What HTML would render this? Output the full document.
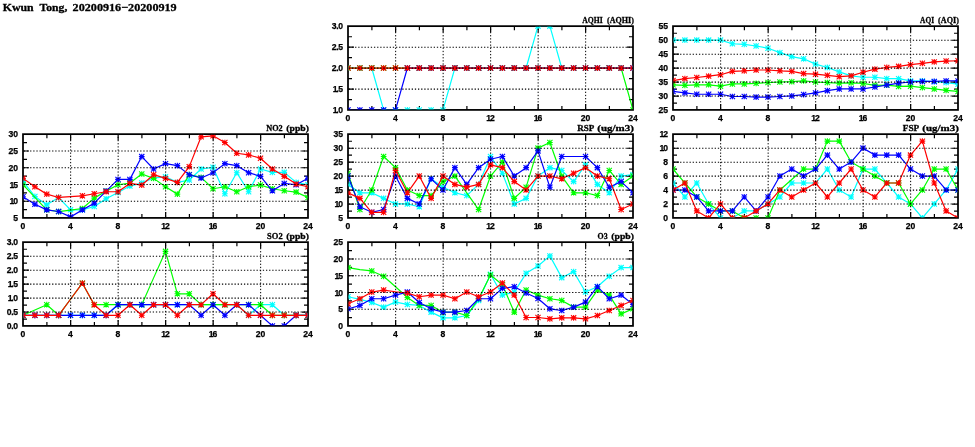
<!DOCTYPE html>
<html><head><meta charset="utf-8"><title>Kwun Tong, 20200916-20200919</title>
<style>html,body{margin:0;padding:0;background:#fff}svg{display:block;will-change:transform}text{font-family:"Liberation Sans",sans-serif;font-weight:bold;fill:#000;stroke:#000;stroke-width:.25px}.t{font-family:"Liberation Serif",serif;font-weight:bold;stroke-width:.3px}</style></head><body>
<svg width="975" height="447" viewBox="0 0 975 447">
<rect width="975" height="447" fill="#fff"/>
<text class="t" y="10.7" font-size="11.2"><tspan x="2.7" textLength="30.9" lengthAdjust="spacingAndGlyphs">Kwun</tspan> <tspan x="39.5" textLength="27.8" lengthAdjust="spacingAndGlyphs">Tong,</tspan> <tspan x="72.6" textLength="104.1" lengthAdjust="spacingAndGlyphs">20200916−20200919</tspan></text>
<g>
<clipPath id="c0"><rect x="348.6" y="26.75" width="283.8" height="82.55"/></clipPath>
<path d="M371.9 26.15v4M371.9 109.9v-4M395.65 26.15v6M395.65 109.9v-6M419.4 26.15v4M419.4 109.9v-4M443.15 26.15v6M443.15 109.9v-6M466.9 26.15v4M466.9 109.9v-4M490.65 26.15v6M490.65 109.9v-6M514.4 26.15v4M514.4 109.9v-4M538.15 26.15v6M538.15 109.9v-6M561.9 26.15v4M561.9 109.9v-4M585.65 26.15v6M585.65 109.9v-6M609.4 26.15v4M609.4 109.9v-4M348 99.55h4M633 99.55h-4M348 89.08h6M633 89.08h-6M348 78.61h4M633 78.61h-4M348 68.15h6M633 68.15h-6M348 57.68h4M633 57.68h-4M348 47.21h6M633 47.21h-6M348 36.74h4M633 36.74h-4" stroke="#000" stroke-width="1.2" fill="none"/>
<rect x="348" y="26.15" width="285" height="83.75" fill="none" stroke="#000" stroke-width="1.75"/>
<text x="348" y="120.8" font-size="8.6" text-anchor="middle">0</text>
<text x="395.5" y="120.8" font-size="8.6" text-anchor="middle">4</text>
<text x="443" y="120.8" font-size="8.6" text-anchor="middle">8</text>
<text x="490.5" y="120.8" font-size="8.6" text-anchor="middle">1<tspan dx="-1.1">2</tspan></text>
<text x="538" y="120.8" font-size="8.6" text-anchor="middle">1<tspan dx="-1.1">6</tspan></text>
<text x="585.5" y="120.8" font-size="8.6" text-anchor="middle">20</text>
<text x="633" y="120.8" font-size="8.6" text-anchor="middle">24</text>
<text x="343" y="113" font-size="8.6" text-anchor="end">1<tspan dx="-1.35">.</tspan><tspan dx="-0.45">0</tspan></text>
<text x="343" y="92.06" font-size="8.6" text-anchor="end">1<tspan dx="-1.35">.</tspan><tspan dx="-0.45">5</tspan></text>
<text x="343" y="71.12" font-size="8.6" text-anchor="end">2<tspan dx="-0.25">.</tspan><tspan dx="-0.45">0</tspan></text>
<text x="343" y="50.19" font-size="8.6" text-anchor="end">2<tspan dx="-0.25">.</tspan><tspan dx="-0.45">5</tspan></text>
<text x="343" y="29.25" font-size="8.6" text-anchor="end">3<tspan dx="-0.25">.</tspan><tspan dx="-0.45">0</tspan></text>
<text class="t" y="22.85" font-size="8.8"><tspan x="582.2" textLength="20.5" lengthAdjust="spacingAndGlyphs">AQHI</tspan> <tspan x="607" textLength="26.9" lengthAdjust="spacingAndGlyphs">(AQHI)</tspan></text>
<g clip-path="url(#c0)" fill="none" stroke-linejoin="round">
<polyline points="348,68.03 359.88,68.03 371.75,68.03 383.62,109.9 395.5,109.9 407.38,109.9 419.25,109.9 431.12,109.9 443,109.9 454.88,68.03 466.75,68.03 478.62,68.03 490.5,68.03 502.38,68.03 514.25,68.03 526.12,68.03 538,26.15 549.88,26.15 561.75,68.03 573.62,68.03 585.5,68.03 597.38,68.03 609.25,68.03 621.12,68.03 633,68.03" stroke="#00ffff" stroke-width="1.2"/>
<path d="M345.4 65.43L350.6 70.62M345.4 70.62L350.6 65.43M348 65.18L348 70.88M345.15 68.03L350.85 68.03M357.27 65.43L362.48 70.62M357.27 70.62L362.48 65.43M359.88 65.18L359.88 70.88M357.02 68.03L362.73 68.03M369.15 65.43L374.35 70.62M369.15 70.62L374.35 65.43M371.75 65.18L371.75 70.88M368.9 68.03L374.6 68.03M381.02 107.3L386.23 112.5M381.02 112.5L386.23 107.3M383.62 107.05L383.62 112.75M380.77 109.9L386.48 109.9M392.9 107.3L398.1 112.5M392.9 112.5L398.1 107.3M395.5 107.05L395.5 112.75M392.65 109.9L398.35 109.9M404.77 107.3L409.98 112.5M404.77 112.5L409.98 107.3M407.38 107.05L407.38 112.75M404.52 109.9L410.23 109.9M416.65 107.3L421.85 112.5M416.65 112.5L421.85 107.3M419.25 107.05L419.25 112.75M416.4 109.9L422.1 109.9M428.52 107.3L433.73 112.5M428.52 112.5L433.73 107.3M431.12 107.05L431.12 112.75M428.27 109.9L433.98 109.9M440.4 107.3L445.6 112.5M440.4 112.5L445.6 107.3M443 107.05L443 112.75M440.15 109.9L445.85 109.9M452.27 65.43L457.48 70.62M452.27 70.62L457.48 65.43M454.88 65.18L454.88 70.88M452.02 68.03L457.73 68.03M464.15 65.43L469.35 70.62M464.15 70.62L469.35 65.43M466.75 65.18L466.75 70.88M463.9 68.03L469.6 68.03M476.02 65.43L481.23 70.62M476.02 70.62L481.23 65.43M478.62 65.18L478.62 70.88M475.77 68.03L481.48 68.03M487.9 65.43L493.1 70.62M487.9 70.62L493.1 65.43M490.5 65.18L490.5 70.88M487.65 68.03L493.35 68.03M499.77 65.43L504.98 70.62M499.77 70.62L504.98 65.43M502.38 65.18L502.38 70.88M499.52 68.03L505.23 68.03M511.65 65.43L516.85 70.62M511.65 70.62L516.85 65.43M514.25 65.18L514.25 70.88M511.4 68.03L517.1 68.03M523.52 65.43L528.73 70.62M523.52 70.62L528.73 65.43M526.12 65.18L526.12 70.88M523.27 68.03L528.98 68.03M535.4 23.55L540.6 28.75M535.4 28.75L540.6 23.55M538 23.3L538 29M535.15 26.15L540.85 26.15M547.27 23.55L552.48 28.75M547.27 28.75L552.48 23.55M549.88 23.3L549.88 29M547.02 26.15L552.73 26.15M559.15 65.43L564.35 70.62M559.15 70.62L564.35 65.43M561.75 65.18L561.75 70.88M558.9 68.03L564.6 68.03M571.02 65.43L576.23 70.62M571.02 70.62L576.23 65.43M573.62 65.18L573.62 70.88M570.77 68.03L576.48 68.03M582.9 65.43L588.1 70.62M582.9 70.62L588.1 65.43M585.5 65.18L585.5 70.88M582.65 68.03L588.35 68.03M594.77 65.43L599.98 70.62M594.77 70.62L599.98 65.43M597.38 65.18L597.38 70.88M594.52 68.03L600.23 68.03M606.65 65.43L611.85 70.62M606.65 70.62L611.85 65.43M609.25 65.18L609.25 70.88M606.4 68.03L612.1 68.03M618.52 65.43L623.73 70.62M618.52 70.62L623.73 65.43M621.12 65.18L621.12 70.88M618.27 68.03L623.98 68.03M630.4 65.43L635.6 70.62M630.4 70.62L635.6 65.43M633 65.18L633 70.88M630.15 68.03L635.85 68.03" stroke="#00ffff" stroke-width="1.1"/>
<polyline points="348,68.03 359.88,68.03 371.75,68.03 383.62,68.03 395.5,68.03 407.38,68.03 419.25,68.03 431.12,68.03 443,68.03 454.88,68.03 466.75,68.03 478.62,68.03 490.5,68.03 502.38,68.03 514.25,68.03 526.12,68.03 538,68.03 549.88,68.03 561.75,68.03 573.62,68.03 585.5,68.03 597.38,68.03 609.25,68.03 621.12,68.03 633,109.9" stroke="#00ff00" stroke-width="1.2"/>
<path d="M345.4 65.43L350.6 70.62M345.4 70.62L350.6 65.43M348 65.18L348 70.88M345.15 68.03L350.85 68.03M357.27 65.43L362.48 70.62M357.27 70.62L362.48 65.43M359.88 65.18L359.88 70.88M357.02 68.03L362.73 68.03M369.15 65.43L374.35 70.62M369.15 70.62L374.35 65.43M371.75 65.18L371.75 70.88M368.9 68.03L374.6 68.03M381.02 65.43L386.23 70.62M381.02 70.62L386.23 65.43M383.62 65.18L383.62 70.88M380.77 68.03L386.48 68.03M392.9 65.43L398.1 70.62M392.9 70.62L398.1 65.43M395.5 65.18L395.5 70.88M392.65 68.03L398.35 68.03M404.77 65.43L409.98 70.62M404.77 70.62L409.98 65.43M407.38 65.18L407.38 70.88M404.52 68.03L410.23 68.03M416.65 65.43L421.85 70.62M416.65 70.62L421.85 65.43M419.25 65.18L419.25 70.88M416.4 68.03L422.1 68.03M428.52 65.43L433.73 70.62M428.52 70.62L433.73 65.43M431.12 65.18L431.12 70.88M428.27 68.03L433.98 68.03M440.4 65.43L445.6 70.62M440.4 70.62L445.6 65.43M443 65.18L443 70.88M440.15 68.03L445.85 68.03M452.27 65.43L457.48 70.62M452.27 70.62L457.48 65.43M454.88 65.18L454.88 70.88M452.02 68.03L457.73 68.03M464.15 65.43L469.35 70.62M464.15 70.62L469.35 65.43M466.75 65.18L466.75 70.88M463.9 68.03L469.6 68.03M476.02 65.43L481.23 70.62M476.02 70.62L481.23 65.43M478.62 65.18L478.62 70.88M475.77 68.03L481.48 68.03M487.9 65.43L493.1 70.62M487.9 70.62L493.1 65.43M490.5 65.18L490.5 70.88M487.65 68.03L493.35 68.03M499.77 65.43L504.98 70.62M499.77 70.62L504.98 65.43M502.38 65.18L502.38 70.88M499.52 68.03L505.23 68.03M511.65 65.43L516.85 70.62M511.65 70.62L516.85 65.43M514.25 65.18L514.25 70.88M511.4 68.03L517.1 68.03M523.52 65.43L528.73 70.62M523.52 70.62L528.73 65.43M526.12 65.18L526.12 70.88M523.27 68.03L528.98 68.03M535.4 65.43L540.6 70.62M535.4 70.62L540.6 65.43M538 65.18L538 70.88M535.15 68.03L540.85 68.03M547.27 65.43L552.48 70.62M547.27 70.62L552.48 65.43M549.88 65.18L549.88 70.88M547.02 68.03L552.73 68.03M559.15 65.43L564.35 70.62M559.15 70.62L564.35 65.43M561.75 65.18L561.75 70.88M558.9 68.03L564.6 68.03M571.02 65.43L576.23 70.62M571.02 70.62L576.23 65.43M573.62 65.18L573.62 70.88M570.77 68.03L576.48 68.03M582.9 65.43L588.1 70.62M582.9 70.62L588.1 65.43M585.5 65.18L585.5 70.88M582.65 68.03L588.35 68.03M594.77 65.43L599.98 70.62M594.77 70.62L599.98 65.43M597.38 65.18L597.38 70.88M594.52 68.03L600.23 68.03M606.65 65.43L611.85 70.62M606.65 70.62L611.85 65.43M609.25 65.18L609.25 70.88M606.4 68.03L612.1 68.03M618.52 65.43L623.73 70.62M618.52 70.62L623.73 65.43M621.12 65.18L621.12 70.88M618.27 68.03L623.98 68.03M630.4 107.3L635.6 112.5M630.4 112.5L635.6 107.3M633 107.05L633 112.75M630.15 109.9L635.85 109.9" stroke="#00ff00" stroke-width="1.1"/>
<polyline points="348,109.9 359.88,109.9 371.75,109.9 383.62,109.9 395.5,109.9 407.38,68.03 419.25,68.03 431.12,68.03 443,68.03 454.88,68.03 466.75,68.03 478.62,68.03 490.5,68.03 502.38,68.03 514.25,68.03 526.12,68.03 538,68.03 549.88,68.03 561.75,68.03 573.62,68.03 585.5,68.03 597.38,68.03 609.25,68.03 621.12,68.03 633,68.03" stroke="#0000ff" stroke-width="1.2"/>
<path d="M345.4 107.3L350.6 112.5M345.4 112.5L350.6 107.3M348 107.05L348 112.75M345.15 109.9L350.85 109.9M357.27 107.3L362.48 112.5M357.27 112.5L362.48 107.3M359.88 107.05L359.88 112.75M357.02 109.9L362.73 109.9M369.15 107.3L374.35 112.5M369.15 112.5L374.35 107.3M371.75 107.05L371.75 112.75M368.9 109.9L374.6 109.9M381.02 107.3L386.23 112.5M381.02 112.5L386.23 107.3M383.62 107.05L383.62 112.75M380.77 109.9L386.48 109.9M392.9 107.3L398.1 112.5M392.9 112.5L398.1 107.3M395.5 107.05L395.5 112.75M392.65 109.9L398.35 109.9M404.77 65.43L409.98 70.62M404.77 70.62L409.98 65.43M407.38 65.18L407.38 70.88M404.52 68.03L410.23 68.03M416.65 65.43L421.85 70.62M416.65 70.62L421.85 65.43M419.25 65.18L419.25 70.88M416.4 68.03L422.1 68.03M428.52 65.43L433.73 70.62M428.52 70.62L433.73 65.43M431.12 65.18L431.12 70.88M428.27 68.03L433.98 68.03M440.4 65.43L445.6 70.62M440.4 70.62L445.6 65.43M443 65.18L443 70.88M440.15 68.03L445.85 68.03M452.27 65.43L457.48 70.62M452.27 70.62L457.48 65.43M454.88 65.18L454.88 70.88M452.02 68.03L457.73 68.03M464.15 65.43L469.35 70.62M464.15 70.62L469.35 65.43M466.75 65.18L466.75 70.88M463.9 68.03L469.6 68.03M476.02 65.43L481.23 70.62M476.02 70.62L481.23 65.43M478.62 65.18L478.62 70.88M475.77 68.03L481.48 68.03M487.9 65.43L493.1 70.62M487.9 70.62L493.1 65.43M490.5 65.18L490.5 70.88M487.65 68.03L493.35 68.03M499.77 65.43L504.98 70.62M499.77 70.62L504.98 65.43M502.38 65.18L502.38 70.88M499.52 68.03L505.23 68.03M511.65 65.43L516.85 70.62M511.65 70.62L516.85 65.43M514.25 65.18L514.25 70.88M511.4 68.03L517.1 68.03M523.52 65.43L528.73 70.62M523.52 70.62L528.73 65.43M526.12 65.18L526.12 70.88M523.27 68.03L528.98 68.03M535.4 65.43L540.6 70.62M535.4 70.62L540.6 65.43M538 65.18L538 70.88M535.15 68.03L540.85 68.03M547.27 65.43L552.48 70.62M547.27 70.62L552.48 65.43M549.88 65.18L549.88 70.88M547.02 68.03L552.73 68.03M559.15 65.43L564.35 70.62M559.15 70.62L564.35 65.43M561.75 65.18L561.75 70.88M558.9 68.03L564.6 68.03M571.02 65.43L576.23 70.62M571.02 70.62L576.23 65.43M573.62 65.18L573.62 70.88M570.77 68.03L576.48 68.03M582.9 65.43L588.1 70.62M582.9 70.62L588.1 65.43M585.5 65.18L585.5 70.88M582.65 68.03L588.35 68.03M594.77 65.43L599.98 70.62M594.77 70.62L599.98 65.43M597.38 65.18L597.38 70.88M594.52 68.03L600.23 68.03M606.65 65.43L611.85 70.62M606.65 70.62L611.85 65.43M609.25 65.18L609.25 70.88M606.4 68.03L612.1 68.03M618.52 65.43L623.73 70.62M618.52 70.62L623.73 65.43M621.12 65.18L621.12 70.88M618.27 68.03L623.98 68.03M630.4 65.43L635.6 70.62M630.4 70.62L635.6 65.43M633 65.18L633 70.88M630.15 68.03L635.85 68.03" stroke="#0000ff" stroke-width="1.1"/>
<polyline points="348,68.03 359.88,68.03 371.75,68.03 383.62,68.03 395.5,68.03 407.38,68.03 419.25,68.03 431.12,68.03 443,68.03 454.88,68.03 466.75,68.03 478.62,68.03 490.5,68.03 502.38,68.03 514.25,68.03 526.12,68.03 538,68.03 549.88,68.03 561.75,68.03 573.62,68.03 585.5,68.03 597.38,68.03 609.25,68.03 621.12,68.03 633,68.03" stroke="#ff0000" stroke-width="1.2"/>
<path d="M345.4 65.43L350.6 70.62M345.4 70.62L350.6 65.43M348 65.18L348 70.88M345.15 68.03L350.85 68.03M357.27 65.43L362.48 70.62M357.27 70.62L362.48 65.43M359.88 65.18L359.88 70.88M357.02 68.03L362.73 68.03M369.15 65.43L374.35 70.62M369.15 70.62L374.35 65.43M371.75 65.18L371.75 70.88M368.9 68.03L374.6 68.03M381.02 65.43L386.23 70.62M381.02 70.62L386.23 65.43M383.62 65.18L383.62 70.88M380.77 68.03L386.48 68.03M392.9 65.43L398.1 70.62M392.9 70.62L398.1 65.43M395.5 65.18L395.5 70.88M392.65 68.03L398.35 68.03M404.77 65.43L409.98 70.62M404.77 70.62L409.98 65.43M407.38 65.18L407.38 70.88M404.52 68.03L410.23 68.03M416.65 65.43L421.85 70.62M416.65 70.62L421.85 65.43M419.25 65.18L419.25 70.88M416.4 68.03L422.1 68.03M428.52 65.43L433.73 70.62M428.52 70.62L433.73 65.43M431.12 65.18L431.12 70.88M428.27 68.03L433.98 68.03M440.4 65.43L445.6 70.62M440.4 70.62L445.6 65.43M443 65.18L443 70.88M440.15 68.03L445.85 68.03M452.27 65.43L457.48 70.62M452.27 70.62L457.48 65.43M454.88 65.18L454.88 70.88M452.02 68.03L457.73 68.03M464.15 65.43L469.35 70.62M464.15 70.62L469.35 65.43M466.75 65.18L466.75 70.88M463.9 68.03L469.6 68.03M476.02 65.43L481.23 70.62M476.02 70.62L481.23 65.43M478.62 65.18L478.62 70.88M475.77 68.03L481.48 68.03M487.9 65.43L493.1 70.62M487.9 70.62L493.1 65.43M490.5 65.18L490.5 70.88M487.65 68.03L493.35 68.03M499.77 65.43L504.98 70.62M499.77 70.62L504.98 65.43M502.38 65.18L502.38 70.88M499.52 68.03L505.23 68.03M511.65 65.43L516.85 70.62M511.65 70.62L516.85 65.43M514.25 65.18L514.25 70.88M511.4 68.03L517.1 68.03M523.52 65.43L528.73 70.62M523.52 70.62L528.73 65.43M526.12 65.18L526.12 70.88M523.27 68.03L528.98 68.03M535.4 65.43L540.6 70.62M535.4 70.62L540.6 65.43M538 65.18L538 70.88M535.15 68.03L540.85 68.03M547.27 65.43L552.48 70.62M547.27 70.62L552.48 65.43M549.88 65.18L549.88 70.88M547.02 68.03L552.73 68.03M559.15 65.43L564.35 70.62M559.15 70.62L564.35 65.43M561.75 65.18L561.75 70.88M558.9 68.03L564.6 68.03M571.02 65.43L576.23 70.62M571.02 70.62L576.23 65.43M573.62 65.18L573.62 70.88M570.77 68.03L576.48 68.03M582.9 65.43L588.1 70.62M582.9 70.62L588.1 65.43M585.5 65.18L585.5 70.88M582.65 68.03L588.35 68.03M594.77 65.43L599.98 70.62M594.77 70.62L599.98 65.43M597.38 65.18L597.38 70.88M594.52 68.03L600.23 68.03M606.65 65.43L611.85 70.62M606.65 70.62L611.85 65.43M609.25 65.18L609.25 70.88M606.4 68.03L612.1 68.03M618.52 65.43L623.73 70.62M618.52 70.62L623.73 65.43M621.12 65.18L621.12 70.88M618.27 68.03L623.98 68.03M630.4 65.43L635.6 70.62M630.4 70.62L635.6 65.43M633 65.18L633 70.88M630.15 68.03L635.85 68.03" stroke="#ff0000" stroke-width="1.1"/>
</g>
<path d="M348 89.08H633M348 68.15H633M348 47.21H633" stroke="#000" stroke-width="1.1" stroke-dasharray="1.3 1.845" stroke-dashoffset="2.35" fill="none"/><path d="M395.65 26.15V109.9M443.15 26.15V109.9M490.65 26.15V109.9M538.15 26.15V109.9M585.65 26.15V109.9" stroke="#000" stroke-width="1" stroke-dasharray="1.3 1.845" stroke-dashoffset="0.5" fill="none"/>
</g>
<g>
<clipPath id="c1"><rect x="673.6" y="26.75" width="283.8" height="82.55"/></clipPath>
<path d="M696.9 26.15v4M696.9 109.9v-4M720.65 26.15v6M720.65 109.9v-6M744.4 26.15v4M744.4 109.9v-4M768.15 26.15v6M768.15 109.9v-6M791.9 26.15v4M791.9 109.9v-4M815.65 26.15v6M815.65 109.9v-6M839.4 26.15v4M839.4 109.9v-4M863.15 26.15v6M863.15 109.9v-6M886.9 26.15v4M886.9 109.9v-4M910.65 26.15v6M910.65 109.9v-6M934.4 26.15v4M934.4 109.9v-4M673 103.04h4M958 103.04h-4M673 96.06h6M958 96.06h-6M673 89.08h4M958 89.08h-4M673 82.1h6M958 82.1h-6M673 75.12h4M958 75.12h-4M673 68.15h6M958 68.15h-6M673 61.17h4M958 61.17h-4M673 54.19h6M958 54.19h-6M673 47.21h4M958 47.21h-4M673 40.23h6M958 40.23h-6M673 33.25h4M958 33.25h-4" stroke="#000" stroke-width="1.2" fill="none"/>
<rect x="673" y="26.15" width="285" height="83.75" fill="none" stroke="#000" stroke-width="1.75"/>
<text x="673" y="120.8" font-size="8.6" text-anchor="middle">0</text>
<text x="720.5" y="120.8" font-size="8.6" text-anchor="middle">4</text>
<text x="768" y="120.8" font-size="8.6" text-anchor="middle">8</text>
<text x="815.5" y="120.8" font-size="8.6" text-anchor="middle">1<tspan dx="-1.1">2</tspan></text>
<text x="863" y="120.8" font-size="8.6" text-anchor="middle">1<tspan dx="-1.1">6</tspan></text>
<text x="910.5" y="120.8" font-size="8.6" text-anchor="middle">20</text>
<text x="958" y="120.8" font-size="8.6" text-anchor="middle">24</text>
<text x="668" y="113" font-size="8.6" text-anchor="end">25</text>
<text x="668" y="99.04" font-size="8.6" text-anchor="end">30</text>
<text x="668" y="85.08" font-size="8.6" text-anchor="end">35</text>
<text x="668" y="71.12" font-size="8.6" text-anchor="end">40</text>
<text x="668" y="57.17" font-size="8.6" text-anchor="end">45</text>
<text x="668" y="43.21" font-size="8.6" text-anchor="end">50</text>
<text x="668" y="29.25" font-size="8.6" text-anchor="end">55</text>
<text class="t" y="22.85" font-size="8.8"><tspan x="920.1" textLength="14" lengthAdjust="spacingAndGlyphs">AQI</tspan> <tspan x="938.1" textLength="20.8" lengthAdjust="spacingAndGlyphs">(AQI)</tspan></text>
<g clip-path="url(#c1)" fill="none" stroke-linejoin="round">
<polyline points="673,40.11 684.88,40.11 696.75,40.11 708.62,40.11 720.5,40.11 732.38,43.74 744.25,44.3 756.12,45.97 768,48.2 779.88,52.67 791.75,56.58 803.62,58.81 815.5,64.12 827.38,67.47 839.25,71.93 851.12,75.84 863,77.24 874.88,77.24 886.75,78.63 898.62,78.63 910.5,80.87 922.38,80.87 934.25,81.7 946.12,82.54 958,84.22" stroke="#00ffff" stroke-width="1.2"/>
<path d="M670.4 37.51L675.6 42.71M670.4 42.71L675.6 37.51M673 37.26L673 42.96M670.15 40.11L675.85 40.11M682.27 37.51L687.48 42.71M682.27 42.71L687.48 37.51M684.88 37.26L684.88 42.96M682.02 40.11L687.73 40.11M694.15 37.51L699.35 42.71M694.15 42.71L699.35 37.51M696.75 37.26L696.75 42.96M693.9 40.11L699.6 40.11M706.02 37.51L711.23 42.71M706.02 42.71L711.23 37.51M708.62 37.26L708.62 42.96M705.77 40.11L711.48 40.11M717.9 37.51L723.1 42.71M717.9 42.71L723.1 37.51M720.5 37.26L720.5 42.96M717.65 40.11L723.35 40.11M729.77 41.14L734.98 46.34M729.77 46.34L734.98 41.14M732.38 40.89L732.38 46.59M729.52 43.74L735.23 43.74M741.65 41.7L746.85 46.9M741.65 46.9L746.85 41.7M744.25 41.45L744.25 47.15M741.4 44.3L747.1 44.3M753.52 43.37L758.73 48.57M753.52 48.57L758.73 43.37M756.12 43.12L756.12 48.82M753.27 45.97L758.98 45.97M765.4 45.6L770.6 50.8M765.4 50.8L770.6 45.6M768 45.35L768 51.05M765.15 48.2L770.85 48.2M777.27 50.07L782.48 55.27M777.27 55.27L782.48 50.07M779.88 49.82L779.88 55.52M777.02 52.67L782.73 52.67M789.15 53.98L794.35 59.18M789.15 59.18L794.35 53.98M791.75 53.73L791.75 59.43M788.9 56.58L794.6 56.58M801.02 56.21L806.23 61.41M801.02 61.41L806.23 56.21M803.62 55.96L803.62 61.66M800.77 58.81L806.48 58.81M812.9 61.52L818.1 66.72M812.9 66.72L818.1 61.52M815.5 61.27L815.5 66.97M812.65 64.12L818.35 64.12M824.77 64.87L829.98 70.07M824.77 70.07L829.98 64.87M827.38 64.62L827.38 70.32M824.52 67.47L830.23 67.47M836.65 69.33L841.85 74.53M836.65 74.53L841.85 69.33M839.25 69.08L839.25 74.78M836.4 71.93L842.1 71.93M848.52 73.24L853.73 78.44M848.52 78.44L853.73 73.24M851.12 72.99L851.12 78.69M848.27 75.84L853.98 75.84M860.4 74.64L865.6 79.84M860.4 79.84L865.6 74.64M863 74.39L863 80.09M860.15 77.24L865.85 77.24M872.27 74.64L877.48 79.84M872.27 79.84L877.48 74.64M874.88 74.39L874.88 80.09M872.02 77.24L877.73 77.24M884.15 76.03L889.35 81.23M884.15 81.23L889.35 76.03M886.75 75.78L886.75 81.48M883.9 78.63L889.6 78.63M896.02 76.03L901.23 81.23M896.02 81.23L901.23 76.03M898.62 75.78L898.62 81.48M895.77 78.63L901.48 78.63M907.9 78.27L913.1 83.47M907.9 83.47L913.1 78.27M910.5 78.02L910.5 83.72M907.65 80.87L913.35 80.87M919.77 78.27L924.98 83.47M919.77 83.47L924.98 78.27M922.38 78.02L922.38 83.72M919.52 80.87L925.23 80.87M931.65 79.1L936.85 84.3M931.65 84.3L936.85 79.1M934.25 78.85L934.25 84.55M931.4 81.7L937.1 81.7M943.52 79.94L948.73 85.14M943.52 85.14L948.73 79.94M946.12 79.69L946.12 85.39M943.27 82.54L948.98 82.54M955.4 81.62L960.6 86.82M955.4 86.82L960.6 81.62M958 81.37L958 87.07M955.15 84.22L960.85 84.22" stroke="#00ffff" stroke-width="1.1"/>
<polyline points="673,84.78 684.88,85.33 696.75,84.78 708.62,84.78 720.5,86.17 732.38,83.94 744.25,83.94 756.12,83.38 768,82.54 779.88,81.98 791.75,81.7 803.62,80.87 815.5,81.98 827.38,82.54 839.25,83.1 851.12,82.82 863,83.38 874.88,85.33 886.75,85.05 898.62,86.45 910.5,86.17 922.38,87.57 934.25,88.96 946.12,90.36 958,91.47" stroke="#00ff00" stroke-width="1.2"/>
<path d="M670.4 82.18L675.6 87.38M670.4 87.38L675.6 82.18M673 81.93L673 87.62M670.15 84.78L675.85 84.78M682.27 82.73L687.48 87.93M682.27 87.93L687.48 82.73M684.88 82.48L684.88 88.18M682.02 85.33L687.73 85.33M694.15 82.18L699.35 87.38M694.15 87.38L699.35 82.18M696.75 81.93L696.75 87.62M693.9 84.78L699.6 84.78M706.02 82.18L711.23 87.38M706.02 87.38L711.23 82.18M708.62 81.93L708.62 87.62M705.77 84.78L711.48 84.78M717.9 83.57L723.1 88.77M717.9 88.77L723.1 83.57M720.5 83.32L720.5 89.02M717.65 86.17L723.35 86.17M729.77 81.34L734.98 86.54M729.77 86.54L734.98 81.34M732.38 81.09L732.38 86.79M729.52 83.94L735.23 83.94M741.65 81.34L746.85 86.54M741.65 86.54L746.85 81.34M744.25 81.09L744.25 86.79M741.4 83.94L747.1 83.94M753.52 80.78L758.73 85.98M753.52 85.98L758.73 80.78M756.12 80.53L756.12 86.23M753.27 83.38L758.98 83.38M765.4 79.94L770.6 85.14M765.4 85.14L770.6 79.94M768 79.69L768 85.39M765.15 82.54L770.85 82.54M777.27 79.38L782.48 84.58M777.27 84.58L782.48 79.38M779.88 79.13L779.88 84.83M777.02 81.98L782.73 81.98M789.15 79.1L794.35 84.3M789.15 84.3L794.35 79.1M791.75 78.85L791.75 84.55M788.9 81.7L794.6 81.7M801.02 78.27L806.23 83.47M801.02 83.47L806.23 78.27M803.62 78.02L803.62 83.72M800.77 80.87L806.48 80.87M812.9 79.38L818.1 84.58M812.9 84.58L818.1 79.38M815.5 79.13L815.5 84.83M812.65 81.98L818.35 81.98M824.77 79.94L829.98 85.14M824.77 85.14L829.98 79.94M827.38 79.69L827.38 85.39M824.52 82.54L830.23 82.54M836.65 80.5L841.85 85.7M836.65 85.7L841.85 80.5M839.25 80.25L839.25 85.95M836.4 83.1L842.1 83.1M848.52 80.22L853.73 85.42M848.52 85.42L853.73 80.22M851.12 79.97L851.12 85.67M848.27 82.82L853.98 82.82M860.4 80.78L865.6 85.98M860.4 85.98L865.6 80.78M863 80.53L863 86.23M860.15 83.38L865.85 83.38M872.27 82.73L877.48 87.93M872.27 87.93L877.48 82.73M874.88 82.48L874.88 88.18M872.02 85.33L877.73 85.33M884.15 82.45L889.35 87.65M884.15 87.65L889.35 82.45M886.75 82.2L886.75 87.9M883.9 85.05L889.6 85.05M896.02 83.85L901.23 89.05M896.02 89.05L901.23 83.85M898.62 83.6L898.62 89.3M895.77 86.45L901.48 86.45M907.9 83.57L913.1 88.77M907.9 88.77L913.1 83.57M910.5 83.32L910.5 89.02M907.65 86.17L913.35 86.17M919.77 84.97L924.98 90.17M919.77 90.17L924.98 84.97M922.38 84.72L922.38 90.42M919.52 87.57L925.23 87.57M931.65 86.36L936.85 91.56M931.65 91.56L936.85 86.36M934.25 86.11L934.25 91.81M931.4 88.96L937.1 88.96M943.52 87.76L948.73 92.96M943.52 92.96L948.73 87.76M946.12 87.51L946.12 93.21M943.27 90.36L948.98 90.36M955.4 88.88L960.6 94.07M955.4 94.07L960.6 88.88M958 88.62L958 94.32M955.15 91.47L960.85 91.47" stroke="#00ff00" stroke-width="1.1"/>
<polyline points="673,91.47 684.88,92.87 696.75,94.27 708.62,94.27 720.5,94.27 732.38,96.5 744.25,96.5 756.12,97.06 768,97.06 779.88,96.5 791.75,95.94 803.62,94.55 815.5,92.87 827.38,90.64 839.25,88.96 851.12,88.96 863,88.96 874.88,87.01 886.75,85.05 898.62,83.1 910.5,81.98 922.38,81.42 934.25,81.42 946.12,80.87 958,80.87" stroke="#0000ff" stroke-width="1.2"/>
<path d="M670.4 88.88L675.6 94.07M670.4 94.07L675.6 88.88M673 88.62L673 94.32M670.15 91.47L675.85 91.47M682.27 90.27L687.48 95.47M682.27 95.47L687.48 90.27M684.88 90.02L684.88 95.72M682.02 92.87L687.73 92.87M694.15 91.67L699.35 96.87M694.15 96.87L699.35 91.67M696.75 91.42L696.75 97.12M693.9 94.27L699.6 94.27M706.02 91.67L711.23 96.87M706.02 96.87L711.23 91.67M708.62 91.42L708.62 97.12M705.77 94.27L711.48 94.27M717.9 91.67L723.1 96.87M717.9 96.87L723.1 91.67M720.5 91.42L720.5 97.12M717.65 94.27L723.35 94.27M729.77 93.9L734.98 99.1M729.77 99.1L734.98 93.9M732.38 93.65L732.38 99.35M729.52 96.5L735.23 96.5M741.65 93.9L746.85 99.1M741.65 99.1L746.85 93.9M744.25 93.65L744.25 99.35M741.4 96.5L747.1 96.5M753.52 94.46L758.73 99.66M753.52 99.66L758.73 94.46M756.12 94.21L756.12 99.91M753.27 97.06L758.98 97.06M765.4 94.46L770.6 99.66M765.4 99.66L770.6 94.46M768 94.21L768 99.91M765.15 97.06L770.85 97.06M777.27 93.9L782.48 99.1M777.27 99.1L782.48 93.9M779.88 93.65L779.88 99.35M777.02 96.5L782.73 96.5M789.15 93.34L794.35 98.54M789.15 98.54L794.35 93.34M791.75 93.09L791.75 98.79M788.9 95.94L794.6 95.94M801.02 91.95L806.23 97.15M801.02 97.15L806.23 91.95M803.62 91.7L803.62 97.4M800.77 94.55L806.48 94.55M812.9 90.27L818.1 95.47M812.9 95.47L818.1 90.27M815.5 90.02L815.5 95.72M812.65 92.87L818.35 92.87M824.77 88.04L829.98 93.24M824.77 93.24L829.98 88.04M827.38 87.79L827.38 93.49M824.52 90.64L830.23 90.64M836.65 86.36L841.85 91.56M836.65 91.56L841.85 86.36M839.25 86.11L839.25 91.81M836.4 88.96L842.1 88.96M848.52 86.36L853.73 91.56M848.52 91.56L853.73 86.36M851.12 86.11L851.12 91.81M848.27 88.96L853.98 88.96M860.4 86.36L865.6 91.56M860.4 91.56L865.6 86.36M863 86.11L863 91.81M860.15 88.96L865.85 88.96M872.27 84.41L877.48 89.61M872.27 89.61L877.48 84.41M874.88 84.16L874.88 89.86M872.02 87.01L877.73 87.01M884.15 82.45L889.35 87.65M884.15 87.65L889.35 82.45M886.75 82.2L886.75 87.9M883.9 85.05L889.6 85.05M896.02 80.5L901.23 85.7M896.02 85.7L901.23 80.5M898.62 80.25L898.62 85.95M895.77 83.1L901.48 83.1M907.9 79.38L913.1 84.58M907.9 84.58L913.1 79.38M910.5 79.13L910.5 84.83M907.65 81.98L913.35 81.98M919.77 78.83L924.98 84.02M919.77 84.02L924.98 78.83M922.38 78.58L922.38 84.27M919.52 81.42L925.23 81.42M931.65 78.83L936.85 84.02M931.65 84.02L936.85 78.83M934.25 78.58L934.25 84.27M931.4 81.42L937.1 81.42M943.52 78.27L948.73 83.47M943.52 83.47L948.73 78.27M946.12 78.02L946.12 83.72M943.27 80.87L948.98 80.87M955.4 78.27L960.6 83.47M955.4 83.47L960.6 78.27M958 78.02L958 83.72M955.15 80.87L960.85 80.87" stroke="#0000ff" stroke-width="1.1"/>
<polyline points="673,80.59 684.88,78.63 696.75,77.52 708.62,76.12 720.5,74.72 732.38,71.38 744.25,70.82 756.12,69.98 768,69.98 779.88,70.82 791.75,71.38 803.62,73.61 815.5,74.17 827.38,75.28 839.25,76.68 851.12,75.84 863,72.21 874.88,69.14 886.75,67.47 898.62,66.35 910.5,64.67 922.38,63.28 934.25,61.88 946.12,61.05 958,60.77" stroke="#ff0000" stroke-width="1.2"/>
<path d="M670.4 77.99L675.6 83.19M670.4 83.19L675.6 77.99M673 77.74L673 83.44M670.15 80.59L675.85 80.59M682.27 76.03L687.48 81.23M682.27 81.23L687.48 76.03M684.88 75.78L684.88 81.48M682.02 78.63L687.73 78.63M694.15 74.92L699.35 80.12M694.15 80.12L699.35 74.92M696.75 74.67L696.75 80.37M693.9 77.52L699.6 77.52M706.02 73.52L711.23 78.72M706.02 78.72L711.23 73.52M708.62 73.27L708.62 78.97M705.77 76.12L711.48 76.12M717.9 72.12L723.1 77.32M717.9 77.32L723.1 72.12M720.5 71.88L720.5 77.57M717.65 74.72L723.35 74.72M729.77 68.78L734.98 73.98M729.77 73.98L734.98 68.78M732.38 68.53L732.38 74.23M729.52 71.38L735.23 71.38M741.65 68.22L746.85 73.42M741.65 73.42L746.85 68.22M744.25 67.97L744.25 73.67M741.4 70.82L747.1 70.82M753.52 67.38L758.73 72.58M753.52 72.58L758.73 67.38M756.12 67.13L756.12 72.83M753.27 69.98L758.98 69.98M765.4 67.38L770.6 72.58M765.4 72.58L770.6 67.38M768 67.13L768 72.83M765.15 69.98L770.85 69.98M777.27 68.22L782.48 73.42M777.27 73.42L782.48 68.22M779.88 67.97L779.88 73.67M777.02 70.82L782.73 70.82M789.15 68.78L794.35 73.98M789.15 73.98L794.35 68.78M791.75 68.53L791.75 74.23M788.9 71.38L794.6 71.38M801.02 71.01L806.23 76.21M801.02 76.21L806.23 71.01M803.62 70.76L803.62 76.46M800.77 73.61L806.48 73.61M812.9 71.57L818.1 76.77M812.9 76.77L818.1 71.57M815.5 71.32L815.5 77.02M812.65 74.17L818.35 74.17M824.77 72.68L829.98 77.88M824.77 77.88L829.98 72.68M827.38 72.43L827.38 78.13M824.52 75.28L830.23 75.28M836.65 74.08L841.85 79.28M836.65 79.28L841.85 74.08M839.25 73.83L839.25 79.53M836.4 76.68L842.1 76.68M848.52 73.24L853.73 78.44M848.52 78.44L853.73 73.24M851.12 72.99L851.12 78.69M848.27 75.84L853.98 75.84M860.4 69.61L865.6 74.81M860.4 74.81L865.6 69.61M863 69.36L863 75.06M860.15 72.21L865.85 72.21M872.27 66.54L877.48 71.74M872.27 71.74L877.48 66.54M874.88 66.29L874.88 71.99M872.02 69.14L877.73 69.14M884.15 64.87L889.35 70.07M884.15 70.07L889.35 64.87M886.75 64.62L886.75 70.32M883.9 67.47L889.6 67.47M896.02 63.75L901.23 68.95M896.02 68.95L901.23 63.75M898.62 63.5L898.62 69.2M895.77 66.35L901.48 66.35M907.9 62.07L913.1 67.27M907.9 67.27L913.1 62.07M910.5 61.82L910.5 67.52M907.65 64.67L913.35 64.67M919.77 60.68L924.98 65.88M919.77 65.88L924.98 60.68M922.38 60.43L922.38 66.13M919.52 63.28L925.23 63.28M931.65 59.28L936.85 64.48M931.65 64.48L936.85 59.28M934.25 59.03L934.25 64.73M931.4 61.88L937.1 61.88M943.52 58.45L948.73 63.65M943.52 63.65L948.73 58.45M946.12 58.2L946.12 63.9M943.27 61.05L948.98 61.05M955.4 58.17L960.6 63.37M955.4 63.37L960.6 58.17M958 57.92L958 63.62M955.15 60.77L960.85 60.77" stroke="#ff0000" stroke-width="1.1"/>
</g>
<path d="M673 96.06H958M673 82.1H958M673 68.15H958M673 54.19H958M673 40.23H958" stroke="#000" stroke-width="1.1" stroke-dasharray="1.3 1.845" stroke-dashoffset="2.35" fill="none"/><path d="M720.65 26.15V109.9M768.15 26.15V109.9M815.65 26.15V109.9M863.15 26.15V109.9M910.65 26.15V109.9" stroke="#000" stroke-width="1" stroke-dasharray="1.3 1.845" stroke-dashoffset="0.5" fill="none"/>
</g>
<g>
<clipPath id="c2"><rect x="23.6" y="134.75" width="283.8" height="82.55"/></clipPath>
<path d="M46.9 134.15v4M46.9 217.9v-4M70.65 134.15v6M70.65 217.9v-6M94.4 134.15v4M94.4 217.9v-4M118.15 134.15v6M118.15 217.9v-6M141.9 134.15v4M141.9 217.9v-4M165.65 134.15v6M165.65 217.9v-6M189.4 134.15v4M189.4 217.9v-4M213.15 134.15v6M213.15 217.9v-6M236.9 134.15v4M236.9 217.9v-4M260.65 134.15v6M260.65 217.9v-6M284.4 134.15v4M284.4 217.9v-4M23 209.65h4M308 209.65h-4M23 201.27h6M308 201.27h-6M23 192.9h4M308 192.9h-4M23 184.52h6M308 184.52h-6M23 176.15h4M308 176.15h-4M23 167.77h6M308 167.77h-6M23 159.4h4M308 159.4h-4M23 151.02h6M308 151.02h-6M23 142.65h4M308 142.65h-4" stroke="#000" stroke-width="1.2" fill="none"/>
<rect x="23" y="134.15" width="285" height="83.75" fill="none" stroke="#000" stroke-width="1.75"/>
<text x="23" y="228.8" font-size="8.6" text-anchor="middle">0</text>
<text x="70.5" y="228.8" font-size="8.6" text-anchor="middle">4</text>
<text x="118" y="228.8" font-size="8.6" text-anchor="middle">8</text>
<text x="165.5" y="228.8" font-size="8.6" text-anchor="middle">1<tspan dx="-1.1">2</tspan></text>
<text x="213" y="228.8" font-size="8.6" text-anchor="middle">1<tspan dx="-1.1">6</tspan></text>
<text x="260.5" y="228.8" font-size="8.6" text-anchor="middle">20</text>
<text x="308" y="228.8" font-size="8.6" text-anchor="middle">24</text>
<text x="18" y="221" font-size="8.6" text-anchor="end">5</text>
<text x="18" y="204.25" font-size="8.6" text-anchor="end">1<tspan dx="-1.1">0</tspan></text>
<text x="18" y="187.5" font-size="8.6" text-anchor="end">1<tspan dx="-1.1">5</tspan></text>
<text x="18" y="170.75" font-size="8.6" text-anchor="end">20</text>
<text x="18" y="154" font-size="8.6" text-anchor="end">25</text>
<text x="18" y="137.25" font-size="8.6" text-anchor="end">30</text>
<text class="t" y="130.85" font-size="8.8"><tspan x="266.2" textLength="16.5" lengthAdjust="spacingAndGlyphs">NO2</tspan> <tspan x="286.3" textLength="22.6" lengthAdjust="spacingAndGlyphs">(ppb)</tspan></text>
<g clip-path="url(#c2)" fill="none" stroke-linejoin="round">
<polyline points="23,181.38 34.88,196.46 46.75,204.84 58.62,197.47 70.5,209.86 82.38,209.86 94.25,206.51 106.12,198.81 118,192.44 129.88,186.08 141.75,183.06 153.62,178.04 165.5,176.69 177.38,182.39 189.25,180.05 201.12,168.99 213,167.31 224.88,193.78 236.75,172.68 248.62,191.77 260.5,168.99 272.38,172.34 284.25,172.34 296.12,182.39 308,184.74" stroke="#00ffff" stroke-width="1.2"/>
<path d="M20.4 178.78L25.6 183.98M20.4 183.98L25.6 178.78M23 178.53L23 184.23M20.15 181.38L25.85 181.38M32.27 193.86L37.48 199.06M32.27 199.06L37.48 193.86M34.88 193.61L34.88 199.31M32.02 196.46L37.73 196.46M44.15 202.24L49.35 207.44M44.15 207.44L49.35 202.24M46.75 201.99L46.75 207.69M43.9 204.84L49.6 204.84M56.02 194.87L61.23 200.06M56.02 200.06L61.23 194.87M58.62 194.62L58.62 200.31M55.77 197.47L61.48 197.47M67.9 207.26L73.1 212.46M67.9 212.46L73.1 207.26M70.5 207.01L70.5 212.71M67.65 209.86L73.35 209.86M79.78 207.26L84.97 212.46M79.78 212.46L84.97 207.26M82.38 207.01L82.38 212.71M79.53 209.86L85.22 209.86M91.65 203.91L96.85 209.11M91.65 209.11L96.85 203.91M94.25 203.66L94.25 209.36M91.4 206.51L97.1 206.51M103.53 196.21L108.72 201.41M103.53 201.41L108.72 196.21M106.12 195.96L106.12 201.66M103.28 198.81L108.97 198.81M115.4 189.84L120.6 195.04M115.4 195.04L120.6 189.84M118 189.59L118 195.29M115.15 192.44L120.85 192.44M127.28 183.48L132.47 188.68M127.28 188.68L132.47 183.48M129.88 183.23L129.88 188.93M127.03 186.08L132.72 186.08M139.15 180.46L144.35 185.66M139.15 185.66L144.35 180.46M141.75 180.21L141.75 185.91M138.9 183.06L144.6 183.06M151.03 175.44L156.22 180.64M151.03 180.64L156.22 175.44M153.62 175.19L153.62 180.89M150.78 178.04L156.47 178.04M162.9 174.09L168.1 179.29M162.9 179.29L168.1 174.09M165.5 173.84L165.5 179.54M162.65 176.69L168.35 176.69M174.78 179.79L179.97 184.99M174.78 184.99L179.97 179.79M177.38 179.54L177.38 185.24M174.53 182.39L180.22 182.39M186.65 177.45L191.85 182.65M186.65 182.65L191.85 177.45M189.25 177.2L189.25 182.9M186.4 180.05L192.1 180.05M198.53 166.39L203.72 171.59M198.53 171.59L203.72 166.39M201.12 166.14L201.12 171.84M198.28 168.99L203.97 168.99M210.4 164.72L215.6 169.91M210.4 169.91L215.6 164.72M213 164.47L213 170.16M210.15 167.31L215.85 167.31M222.28 191.18L227.47 196.38M222.28 196.38L227.47 191.18M224.88 190.93L224.88 196.63M222.03 193.78L227.72 193.78M234.15 170.08L239.35 175.28M234.15 175.28L239.35 170.08M236.75 169.83L236.75 175.53M233.9 172.68L239.6 172.68M246.03 189.17L251.22 194.37M246.03 194.37L251.22 189.17M248.62 188.92L248.62 194.62M245.78 191.77L251.47 191.77M257.9 166.39L263.1 171.59M257.9 171.59L263.1 166.39M260.5 166.14L260.5 171.84M257.65 168.99L263.35 168.99M269.77 169.74L274.98 174.94M269.77 174.94L274.98 169.74M272.38 169.49L272.38 175.19M269.52 172.34L275.23 172.34M281.65 169.74L286.85 174.94M281.65 174.94L286.85 169.74M284.25 169.49L284.25 175.19M281.4 172.34L287.1 172.34M293.52 179.79L298.73 184.99M293.52 184.99L298.73 179.79M296.12 179.54L296.12 185.24M293.27 182.39L298.98 182.39M305.4 182.14L310.6 187.34M305.4 187.34L310.6 182.14M308 181.89L308 187.59M305.15 184.74L310.85 184.74" stroke="#00ffff" stroke-width="1.1"/>
<polyline points="23,184.74 34.88,197.3 46.75,209.86 58.62,211.53 70.5,210.03 82.38,208.52 94.25,198.13 106.12,191.1 118,184.74 129.88,183.06 141.75,174.01 153.62,178.37 165.5,186.75 177.38,194.12 189.25,174.69 201.12,177.37 213,188.75 224.88,186.75 236.75,191.77 248.62,186.75 260.5,185.07 272.38,188.75 284.25,190.77 296.12,192.11 308,197.47" stroke="#00ff00" stroke-width="1.2"/>
<path d="M20.4 182.14L25.6 187.34M20.4 187.34L25.6 182.14M23 181.89L23 187.59M20.15 184.74L25.85 184.74M44.15 207.26L49.35 212.46M44.15 212.46L49.35 207.26M46.75 207.01L46.75 212.71M43.9 209.86L49.6 209.86M56.02 208.94L61.23 214.13M56.02 214.13L61.23 208.94M58.62 208.69L58.62 214.38M55.77 211.53L61.48 211.53M79.78 205.92L84.97 211.12M79.78 211.12L84.97 205.92M82.38 205.67L82.38 211.37M79.53 208.52L85.22 208.52M91.65 195.53L96.85 200.73M91.65 200.73L96.85 195.53M94.25 195.28L94.25 200.98M91.4 198.13L97.1 198.13M103.53 188.5L108.72 193.7M103.53 193.7L108.72 188.5M106.12 188.25L106.12 193.95M103.28 191.1L108.97 191.1M115.4 182.14L120.6 187.34M115.4 187.34L120.6 182.14M118 181.89L118 187.59M115.15 184.74L120.85 184.74M127.28 180.46L132.47 185.66M127.28 185.66L132.47 180.46M129.88 180.21L129.88 185.91M127.03 183.06L132.72 183.06M139.15 171.41L144.35 176.61M139.15 176.61L144.35 171.41M141.75 171.16L141.75 176.86M138.9 174.01L144.6 174.01M151.03 175.77L156.22 180.97M151.03 180.97L156.22 175.77M153.62 175.52L153.62 181.22M150.78 178.37L156.47 178.37M162.9 184.15L168.1 189.34M162.9 189.34L168.1 184.15M165.5 183.9L165.5 189.59M162.65 186.75L168.35 186.75M174.78 191.52L179.97 196.72M174.78 196.72L179.97 191.52M177.38 191.27L177.38 196.97M174.53 194.12L180.22 194.12M186.65 172.09L191.85 177.28M186.65 177.28L191.85 172.09M189.25 171.84L189.25 177.53M186.4 174.69L192.1 174.69M198.53 174.77L203.72 179.97M198.53 179.97L203.72 174.77M201.12 174.52L201.12 180.22M198.28 177.37L203.97 177.37M210.4 186.16L215.6 191.35M210.4 191.35L215.6 186.16M213 185.91L213 191.6M210.15 188.75L215.85 188.75M222.28 184.15L227.47 189.34M222.28 189.34L227.47 184.15M224.88 183.9L224.88 189.59M222.03 186.75L227.72 186.75M234.15 189.17L239.35 194.37M234.15 194.37L239.35 189.17M236.75 188.92L236.75 194.62M233.9 191.77L239.6 191.77M246.03 184.15L251.22 189.34M246.03 189.34L251.22 184.15M248.62 183.9L248.62 189.59M245.78 186.75L251.47 186.75M257.9 182.47L263.1 187.67M257.9 187.67L263.1 182.47M260.5 182.22L260.5 187.92M257.65 185.07L263.35 185.07M269.77 186.16L274.98 191.35M269.77 191.35L274.98 186.16M272.38 185.91L272.38 191.6M269.52 188.75L275.23 188.75M281.65 188.17L286.85 193.37M281.65 193.37L286.85 188.17M284.25 187.92L284.25 193.62M281.4 190.77L287.1 190.77M293.52 189.51L298.73 194.71M293.52 194.71L298.73 189.51M296.12 189.26L296.12 194.96M293.27 192.11L298.98 192.11M305.4 194.87L310.6 200.06M305.4 200.06L310.6 194.87M308 194.62L308 200.31M305.15 197.47L310.85 197.47" stroke="#00ff00" stroke-width="1.1"/>
<polyline points="23,196.8 34.88,204.17 46.75,209.86 58.62,211.53 70.5,216.9 82.38,209.86 94.25,203.16 106.12,191.1 118,179.38 129.88,179.38 141.75,156.59 153.62,168.99 165.5,163.63 177.38,165.64 189.25,174.69 201.12,178.04 213,172.68 224.88,163.63 236.75,165.64 248.62,172.68 260.5,176.36 272.38,190.77 284.25,183.4 296.12,184.74 308,178.37" stroke="#0000ff" stroke-width="1.2"/>
<path d="M20.4 194.2L25.6 199.4M20.4 199.4L25.6 194.2M23 193.95L23 199.65M20.15 196.8L25.85 196.8M32.27 201.57L37.48 206.77M32.27 206.77L37.48 201.57M34.88 201.32L34.88 207.02M32.02 204.17L37.73 204.17M44.15 207.26L49.35 212.46M44.15 212.46L49.35 207.26M46.75 207.01L46.75 212.71M43.9 209.86L49.6 209.86M56.02 208.94L61.23 214.13M56.02 214.13L61.23 208.94M58.62 208.69L58.62 214.38M55.77 211.53L61.48 211.53M67.9 214.3L73.1 219.5M67.9 219.5L73.1 214.3M70.5 214.05L70.5 219.75M67.65 216.9L73.35 216.9M79.78 207.26L84.97 212.46M79.78 212.46L84.97 207.26M82.38 207.01L82.38 212.71M79.53 209.86L85.22 209.86M91.65 200.56L96.85 205.76M91.65 205.76L96.85 200.56M94.25 200.31L94.25 206.01M91.4 203.16L97.1 203.16M103.53 188.5L108.72 193.7M103.53 193.7L108.72 188.5M106.12 188.25L106.12 193.95M103.28 191.1L108.97 191.1M115.4 176.78L120.6 181.97M115.4 181.97L120.6 176.78M118 176.53L118 182.22M115.15 179.38L120.85 179.38M127.28 176.78L132.47 181.97M127.28 181.97L132.47 176.78M129.88 176.53L129.88 182.22M127.03 179.38L132.72 179.38M139.15 154L144.35 159.19M139.15 159.19L144.35 154M141.75 153.75L141.75 159.44M138.9 156.59L144.6 156.59M151.03 166.39L156.22 171.59M151.03 171.59L156.22 166.39M153.62 166.14L153.62 171.84M150.78 168.99L156.47 168.99M162.9 161.03L168.1 166.23M162.9 166.23L168.1 161.03M165.5 160.78L165.5 166.48M162.65 163.63L168.35 163.63M174.78 163.04L179.97 168.24M174.78 168.24L179.97 163.04M177.38 162.79L177.38 168.49M174.53 165.64L180.22 165.64M186.65 172.09L191.85 177.28M186.65 177.28L191.85 172.09M189.25 171.84L189.25 177.53M186.4 174.69L192.1 174.69M198.53 175.44L203.72 180.64M198.53 180.64L203.72 175.44M201.12 175.19L201.12 180.89M198.28 178.04L203.97 178.04M210.4 170.08L215.6 175.28M210.4 175.28L215.6 170.08M213 169.83L213 175.53M210.15 172.68L215.85 172.68M222.28 161.03L227.47 166.23M222.28 166.23L227.47 161.03M224.88 160.78L224.88 166.48M222.03 163.63L227.72 163.63M234.15 163.04L239.35 168.24M234.15 168.24L239.35 163.04M236.75 162.79L236.75 168.49M233.9 165.64L239.6 165.64M246.03 170.08L251.22 175.28M246.03 175.28L251.22 170.08M248.62 169.83L248.62 175.53M245.78 172.68L251.47 172.68M257.9 173.76L263.1 178.96M257.9 178.96L263.1 173.76M260.5 173.51L260.5 179.21M257.65 176.36L263.35 176.36M269.77 188.17L274.98 193.37M269.77 193.37L274.98 188.17M272.38 187.92L272.38 193.62M269.52 190.77L275.23 190.77M281.65 180.8L286.85 186M281.65 186L286.85 180.8M284.25 180.55L284.25 186.25M281.4 183.4L287.1 183.4M293.52 182.14L298.73 187.34M293.52 187.34L298.73 182.14M296.12 181.89L296.12 187.59M293.27 184.74L298.98 184.74M305.4 175.77L310.6 180.97M305.4 180.97L310.6 175.77M308 175.52L308 181.22M305.15 178.37L310.85 178.37" stroke="#0000ff" stroke-width="1.1"/>
<polyline points="23,178.37 34.88,186.75 46.75,194.12 58.62,197.47 70.5,196.63 82.38,195.79 94.25,193.78 106.12,191.77 118,191.77 129.88,183.4 141.75,185.07 153.62,174.69 165.5,178.37 177.38,182.39 189.25,166.65 201.12,136.83 213,135.82 224.88,142.53 236.75,153.25 248.62,154.92 260.5,158.27 272.38,168.99 284.25,176.36 296.12,184.06 308,186.75" stroke="#ff0000" stroke-width="1.2"/>
<path d="M20.4 175.77L25.6 180.97M20.4 180.97L25.6 175.77M23 175.52L23 181.22M20.15 178.37L25.85 178.37M32.27 184.15L37.48 189.34M32.27 189.34L37.48 184.15M34.88 183.9L34.88 189.59M32.02 186.75L37.73 186.75M44.15 191.52L49.35 196.72M44.15 196.72L49.35 191.52M46.75 191.27L46.75 196.97M43.9 194.12L49.6 194.12M56.02 194.87L61.23 200.06M56.02 200.06L61.23 194.87M58.62 194.62L58.62 200.31M55.77 197.47L61.48 197.47M79.78 193.19L84.97 198.39M79.78 198.39L84.97 193.19M82.38 192.94L82.38 198.64M79.53 195.79L85.22 195.79M91.65 191.18L96.85 196.38M91.65 196.38L96.85 191.18M94.25 190.93L94.25 196.63M91.4 193.78L97.1 193.78M103.53 189.17L108.72 194.37M103.53 194.37L108.72 189.17M106.12 188.92L106.12 194.62M103.28 191.77L108.97 191.77M115.4 189.17L120.6 194.37M115.4 194.37L120.6 189.17M118 188.92L118 194.62M115.15 191.77L120.85 191.77M127.28 180.8L132.47 186M127.28 186L132.47 180.8M129.88 180.55L129.88 186.25M127.03 183.4L132.72 183.4M139.15 182.47L144.35 187.67M139.15 187.67L144.35 182.47M141.75 182.22L141.75 187.92M138.9 185.07L144.6 185.07M151.03 172.09L156.22 177.28M151.03 177.28L156.22 172.09M153.62 171.84L153.62 177.53M150.78 174.69L156.47 174.69M162.9 175.77L168.1 180.97M162.9 180.97L168.1 175.77M165.5 175.52L165.5 181.22M162.65 178.37L168.35 178.37M174.78 179.79L179.97 184.99M174.78 184.99L179.97 179.79M177.38 179.54L177.38 185.24M174.53 182.39L180.22 182.39M186.65 164.05L191.85 169.25M186.65 169.25L191.85 164.05M189.25 163.8L189.25 169.5M186.4 166.65L192.1 166.65M198.53 134.23L203.72 139.43M198.53 139.43L203.72 134.23M201.12 133.98L201.12 139.68M198.28 136.83L203.97 136.83M210.4 133.22L215.6 138.42M210.4 138.42L215.6 133.22M213 132.97L213 138.67M210.15 135.82L215.85 135.82M222.28 139.93L227.47 145.12M222.28 145.12L227.47 139.93M224.88 139.68L224.88 145.38M222.03 142.53L227.72 142.53M234.15 150.65L239.35 155.84M234.15 155.84L239.35 150.65M236.75 150.4L236.75 156.09M233.9 153.25L239.6 153.25M246.03 152.32L251.22 157.52M246.03 157.52L251.22 152.32M248.62 152.07L248.62 157.77M245.78 154.92L251.47 154.92M257.9 155.67L263.1 160.87M257.9 160.87L263.1 155.67M260.5 155.42L260.5 161.12M257.65 158.27L263.35 158.27M269.77 166.39L274.98 171.59M269.77 171.59L274.98 166.39M272.38 166.14L272.38 171.84M269.52 168.99L275.23 168.99M281.65 173.76L286.85 178.96M281.65 178.96L286.85 173.76M284.25 173.51L284.25 179.21M281.4 176.36L287.1 176.36M293.52 181.47L298.73 186.66M293.52 186.66L298.73 181.47M296.12 181.22L296.12 186.91M293.27 184.06L298.98 184.06M305.4 184.15L310.6 189.34M305.4 189.34L310.6 184.15M308 183.9L308 189.59M305.15 186.75L310.85 186.75" stroke="#ff0000" stroke-width="1.1"/>
</g>
<path d="M23 201.27H308M23 184.52H308M23 167.77H308M23 151.02H308" stroke="#000" stroke-width="1.1" stroke-dasharray="1.3 1.845" stroke-dashoffset="2.35" fill="none"/><path d="M70.65 134.15V217.9M118.15 134.15V217.9M165.65 134.15V217.9M213.15 134.15V217.9M260.65 134.15V217.9" stroke="#000" stroke-width="1" stroke-dasharray="1.3 1.845" stroke-dashoffset="0.5" fill="none"/>
</g>
<g>
<clipPath id="c3"><rect x="348.6" y="134.75" width="283.8" height="82.55"/></clipPath>
<path d="M371.9 134.15v4M371.9 217.9v-4M395.65 134.15v6M395.65 217.9v-6M419.4 134.15v4M419.4 217.9v-4M443.15 134.15v6M443.15 217.9v-6M466.9 134.15v4M466.9 217.9v-4M490.65 134.15v6M490.65 217.9v-6M514.4 134.15v4M514.4 217.9v-4M538.15 134.15v6M538.15 217.9v-6M561.9 134.15v4M561.9 217.9v-4M585.65 134.15v6M585.65 217.9v-6M609.4 134.15v4M609.4 217.9v-4M348 211.04h4M633 211.04h-4M348 204.06h6M633 204.06h-6M348 197.08h4M633 197.08h-4M348 190.1h6M633 190.1h-6M348 183.12h4M633 183.12h-4M348 176.15h6M633 176.15h-6M348 169.17h4M633 169.17h-4M348 162.19h6M633 162.19h-6M348 155.21h4M633 155.21h-4M348 148.23h6M633 148.23h-6M348 141.25h4M633 141.25h-4" stroke="#000" stroke-width="1.2" fill="none"/>
<rect x="348" y="134.15" width="285" height="83.75" fill="none" stroke="#000" stroke-width="1.75"/>
<text x="348" y="228.8" font-size="8.6" text-anchor="middle">0</text>
<text x="395.5" y="228.8" font-size="8.6" text-anchor="middle">4</text>
<text x="443" y="228.8" font-size="8.6" text-anchor="middle">8</text>
<text x="490.5" y="228.8" font-size="8.6" text-anchor="middle">1<tspan dx="-1.1">2</tspan></text>
<text x="538" y="228.8" font-size="8.6" text-anchor="middle">1<tspan dx="-1.1">6</tspan></text>
<text x="585.5" y="228.8" font-size="8.6" text-anchor="middle">20</text>
<text x="633" y="228.8" font-size="8.6" text-anchor="middle">24</text>
<text x="343" y="221" font-size="8.6" text-anchor="end">5</text>
<text x="343" y="207.04" font-size="8.6" text-anchor="end">1<tspan dx="-1.1">0</tspan></text>
<text x="343" y="193.08" font-size="8.6" text-anchor="end">1<tspan dx="-1.1">5</tspan></text>
<text x="343" y="179.12" font-size="8.6" text-anchor="end">20</text>
<text x="343" y="165.17" font-size="8.6" text-anchor="end">25</text>
<text x="343" y="151.21" font-size="8.6" text-anchor="end">30</text>
<text x="343" y="137.25" font-size="8.6" text-anchor="end">35</text>
<text class="t" y="130.85" font-size="8.8"><tspan x="577.2" textLength="16.5" lengthAdjust="spacingAndGlyphs">RSP</tspan> <tspan x="597.3" textLength="36.6" lengthAdjust="spacingAndGlyphs">(ug/m3)</tspan></text>
<g clip-path="url(#c3)" fill="none" stroke-linejoin="round">
<polyline points="348,184.4 359.88,192.78 371.75,192.78 383.62,198.36 395.5,203.94 407.38,203.94 419.25,206.73 431.12,178.82 443,187.19 454.88,192.78 466.75,195.57 478.62,184.4 490.5,156.48 502.38,173.23 514.25,203.94 526.12,198.36 538,176.03 549.88,167.65 561.75,170.44 573.62,181.61 585.5,164.86 597.38,184.4 609.25,192.78 621.12,176.03 633,174.63" stroke="#00ffff" stroke-width="1.2"/>
<path d="M345.4 181.8L350.6 187M345.4 187L350.6 181.8M348 181.55L348 187.25M345.15 184.4L350.85 184.4M357.27 190.18L362.48 195.38M357.27 195.38L362.48 190.18M359.88 189.93L359.88 195.62M357.02 192.78L362.73 192.78M369.15 190.18L374.35 195.38M369.15 195.38L374.35 190.18M371.75 189.93L371.75 195.62M368.9 192.78L374.6 192.78M381.02 195.76L386.23 200.96M381.02 200.96L386.23 195.76M383.62 195.51L383.62 201.21M380.77 198.36L386.48 198.36M392.9 201.34L398.1 206.54M392.9 206.54L398.1 201.34M395.5 201.09L395.5 206.79M392.65 203.94L398.35 203.94M404.77 201.34L409.98 206.54M404.77 206.54L409.98 201.34M407.38 201.09L407.38 206.79M404.52 203.94L410.23 203.94M416.65 204.13L421.85 209.33M416.65 209.33L421.85 204.13M419.25 203.88L419.25 209.58M416.4 206.73L422.1 206.73M428.52 176.22L433.73 181.42M428.52 181.42L433.73 176.22M431.12 175.97L431.12 181.67M428.27 178.82L433.98 178.82M440.4 184.59L445.6 189.79M440.4 189.79L445.6 184.59M443 184.34L443 190.04M440.15 187.19L445.85 187.19M452.27 190.18L457.48 195.38M452.27 195.38L457.48 190.18M454.88 189.93L454.88 195.62M452.02 192.78L457.73 192.78M464.15 192.97L469.35 198.17M464.15 198.17L469.35 192.97M466.75 192.72L466.75 198.42M463.9 195.57L469.6 195.57M476.02 181.8L481.23 187M476.02 187L481.23 181.8M478.62 181.55L478.62 187.25M475.77 184.4L481.48 184.4M487.9 153.88L493.1 159.08M487.9 159.08L493.1 153.88M490.5 153.63L490.5 159.33M487.65 156.48L493.35 156.48M499.77 170.63L504.98 175.83M499.77 175.83L504.98 170.63M502.38 170.38L502.38 176.08M499.52 173.23L505.23 173.23M511.65 201.34L516.85 206.54M511.65 206.54L516.85 201.34M514.25 201.09L514.25 206.79M511.4 203.94L517.1 203.94M523.52 195.76L528.73 200.96M523.52 200.96L528.73 195.76M526.12 195.51L526.12 201.21M523.27 198.36L528.98 198.36M535.4 173.43L540.6 178.62M535.4 178.62L540.6 173.43M538 173.18L538 178.88M535.15 176.03L540.85 176.03M547.27 165.05L552.48 170.25M547.27 170.25L552.48 165.05M549.88 164.8L549.88 170.5M547.02 167.65L552.73 167.65M559.15 167.84L564.35 173.04M559.15 173.04L564.35 167.84M561.75 167.59L561.75 173.29M558.9 170.44L564.6 170.44M571.02 179.01L576.23 184.21M571.02 184.21L576.23 179.01M573.62 178.76L573.62 184.46M570.77 181.61L576.48 181.61M582.9 162.26L588.1 167.46M582.9 167.46L588.1 162.26M585.5 162.01L585.5 167.71M582.65 164.86L588.35 164.86M594.77 181.8L599.98 187M594.77 187L599.98 181.8M597.38 181.55L597.38 187.25M594.52 184.4L600.23 184.4M606.65 190.18L611.85 195.38M606.65 195.38L611.85 190.18M609.25 189.93L609.25 195.62M606.4 192.78L612.1 192.78M618.52 173.43L623.73 178.62M618.52 178.62L623.73 173.43M621.12 173.18L621.12 178.88M618.27 176.03L623.98 176.03M630.4 172.03L635.6 177.23M630.4 177.23L635.6 172.03M633 171.78L633 177.48M630.15 174.63L635.85 174.63" stroke="#00ffff" stroke-width="1.1"/>
<polyline points="348,173.23 359.88,209.53 371.75,189.98 383.62,156.48 395.5,167.65 407.38,189.98 419.25,195.57 431.12,195.57 443,181.61 454.88,176.03 466.75,192.78 478.62,209.53 490.5,176.03 502.38,162.07 514.25,198.36 526.12,187.19 538,148.11 549.88,142.53 561.75,176.03 573.62,192.78 585.5,192.78 597.38,195.57 609.25,170.44 621.12,184.4 633,176.03" stroke="#00ff00" stroke-width="1.2"/>
<path d="M345.4 170.63L350.6 175.83M345.4 175.83L350.6 170.63M348 170.38L348 176.08M345.15 173.23L350.85 173.23M357.27 206.93L362.48 212.12M357.27 212.12L362.48 206.93M359.88 206.68L359.88 212.38M357.02 209.53L362.73 209.53M369.15 187.38L374.35 192.58M369.15 192.58L374.35 187.38M371.75 187.13L371.75 192.83M368.9 189.98L374.6 189.98M381.02 153.88L386.23 159.08M381.02 159.08L386.23 153.88M383.62 153.63L383.62 159.33M380.77 156.48L386.48 156.48M392.9 165.05L398.1 170.25M392.9 170.25L398.1 165.05M395.5 164.8L395.5 170.5M392.65 167.65L398.35 167.65M404.77 187.38L409.98 192.58M404.77 192.58L409.98 187.38M407.38 187.13L407.38 192.83M404.52 189.98L410.23 189.98M416.65 192.97L421.85 198.17M416.65 198.17L421.85 192.97M419.25 192.72L419.25 198.42M416.4 195.57L422.1 195.57M428.52 192.97L433.73 198.17M428.52 198.17L433.73 192.97M431.12 192.72L431.12 198.42M428.27 195.57L433.98 195.57M440.4 179.01L445.6 184.21M440.4 184.21L445.6 179.01M443 178.76L443 184.46M440.15 181.61L445.85 181.61M452.27 173.43L457.48 178.62M452.27 178.62L457.48 173.43M454.88 173.18L454.88 178.88M452.02 176.03L457.73 176.03M476.02 206.93L481.23 212.12M476.02 212.12L481.23 206.93M478.62 206.68L478.62 212.38M475.77 209.53L481.48 209.53M487.9 173.43L493.1 178.62M487.9 178.62L493.1 173.43M490.5 173.18L490.5 178.88M487.65 176.03L493.35 176.03M499.77 159.47L504.98 164.67M499.77 164.67L504.98 159.47M502.38 159.22L502.38 164.92M499.52 162.07L505.23 162.07M511.65 195.76L516.85 200.96M511.65 200.96L516.85 195.76M514.25 195.51L514.25 201.21M511.4 198.36L517.1 198.36M523.52 184.59L528.73 189.79M523.52 189.79L528.73 184.59M526.12 184.34L526.12 190.04M523.27 187.19L528.98 187.19M535.4 145.51L540.6 150.71M535.4 150.71L540.6 145.51M538 145.26L538 150.96M535.15 148.11L540.85 148.11M547.27 139.93L552.48 145.12M547.27 145.12L552.48 139.93M549.88 139.68L549.88 145.38M547.02 142.53L552.73 142.53M559.15 173.43L564.35 178.62M559.15 178.62L564.35 173.43M561.75 173.18L561.75 178.88M558.9 176.03L564.6 176.03M571.02 190.18L576.23 195.38M571.02 195.38L576.23 190.18M573.62 189.93L573.62 195.62M570.77 192.78L576.48 192.78M582.9 190.18L588.1 195.38M582.9 195.38L588.1 190.18M585.5 189.93L585.5 195.62M582.65 192.78L588.35 192.78M594.77 192.97L599.98 198.17M594.77 198.17L599.98 192.97M597.38 192.72L597.38 198.42M594.52 195.57L600.23 195.57M606.65 167.84L611.85 173.04M606.65 173.04L611.85 167.84M609.25 167.59L609.25 173.29M606.4 170.44L612.1 170.44M618.52 181.8L623.73 187M618.52 187L623.73 181.8M621.12 181.55L621.12 187.25M618.27 184.4L623.98 184.4M630.4 173.43L635.6 178.62M630.4 178.62L635.6 173.43M633 173.18L633 178.88M630.15 176.03L635.85 176.03" stroke="#00ff00" stroke-width="1.1"/>
<polyline points="348,176.03 359.88,206.73 371.75,212.32 383.62,209.53 395.5,176.03 407.38,198.36 419.25,203.94 431.12,178.82 443,189.98 454.88,167.65 466.75,184.4 478.62,167.65 490.5,159.28 502.38,156.48 514.25,176.03 526.12,167.65 538,150.9 549.88,187.19 561.75,156.48 573.62,156.48 585.5,156.48 597.38,167.65 609.25,187.19 621.12,181.61 633,192.78" stroke="#0000ff" stroke-width="1.2"/>
<path d="M345.4 173.43L350.6 178.62M345.4 178.62L350.6 173.43M348 173.18L348 178.88M345.15 176.03L350.85 176.03M357.27 204.13L362.48 209.33M357.27 209.33L362.48 204.13M359.88 203.88L359.88 209.58M357.02 206.73L362.73 206.73M369.15 209.72L374.35 214.92M369.15 214.92L374.35 209.72M371.75 209.47L371.75 215.17M368.9 212.32L374.6 212.32M381.02 206.93L386.23 212.12M381.02 212.12L386.23 206.93M383.62 206.68L383.62 212.38M380.77 209.53L386.48 209.53M392.9 173.43L398.1 178.62M392.9 178.62L398.1 173.43M395.5 173.18L395.5 178.88M392.65 176.03L398.35 176.03M404.77 195.76L409.98 200.96M404.77 200.96L409.98 195.76M407.38 195.51L407.38 201.21M404.52 198.36L410.23 198.36M416.65 201.34L421.85 206.54M416.65 206.54L421.85 201.34M419.25 201.09L419.25 206.79M416.4 203.94L422.1 203.94M428.52 176.22L433.73 181.42M428.52 181.42L433.73 176.22M431.12 175.97L431.12 181.67M428.27 178.82L433.98 178.82M440.4 187.38L445.6 192.58M440.4 192.58L445.6 187.38M443 187.13L443 192.83M440.15 189.98L445.85 189.98M452.27 165.05L457.48 170.25M452.27 170.25L457.48 165.05M454.88 164.8L454.88 170.5M452.02 167.65L457.73 167.65M464.15 181.8L469.35 187M464.15 187L469.35 181.8M466.75 181.55L466.75 187.25M463.9 184.4L469.6 184.4M476.02 165.05L481.23 170.25M476.02 170.25L481.23 165.05M478.62 164.8L478.62 170.5M475.77 167.65L481.48 167.65M487.9 156.68L493.1 161.88M487.9 161.88L493.1 156.68M490.5 156.43L490.5 162.12M487.65 159.28L493.35 159.28M499.77 153.88L504.98 159.08M499.77 159.08L504.98 153.88M502.38 153.63L502.38 159.33M499.52 156.48L505.23 156.48M511.65 173.43L516.85 178.62M511.65 178.62L516.85 173.43M514.25 173.18L514.25 178.88M511.4 176.03L517.1 176.03M523.52 165.05L528.73 170.25M523.52 170.25L528.73 165.05M526.12 164.8L526.12 170.5M523.27 167.65L528.98 167.65M535.4 148.3L540.6 153.5M535.4 153.5L540.6 148.3M538 148.05L538 153.75M535.15 150.9L540.85 150.9M547.27 184.59L552.48 189.79M547.27 189.79L552.48 184.59M549.88 184.34L549.88 190.04M547.02 187.19L552.73 187.19M559.15 153.88L564.35 159.08M559.15 159.08L564.35 153.88M561.75 153.63L561.75 159.33M558.9 156.48L564.6 156.48M582.9 153.88L588.1 159.08M582.9 159.08L588.1 153.88M585.5 153.63L585.5 159.33M582.65 156.48L588.35 156.48M594.77 165.05L599.98 170.25M594.77 170.25L599.98 165.05M597.38 164.8L597.38 170.5M594.52 167.65L600.23 167.65M606.65 184.59L611.85 189.79M606.65 189.79L611.85 184.59M609.25 184.34L609.25 190.04M606.4 187.19L612.1 187.19M618.52 179.01L623.73 184.21M618.52 184.21L623.73 179.01M621.12 178.76L621.12 184.46M618.27 181.61L623.98 181.61M630.4 190.18L635.6 195.38M630.4 195.38L635.6 190.18M633 189.93L633 195.62M630.15 192.78L635.85 192.78" stroke="#0000ff" stroke-width="1.1"/>
<polyline points="348,192.78 359.88,198.36 371.75,212.32 383.62,212.32 395.5,170.44 407.38,192.78 419.25,176.03 431.12,198.36 443,176.03 454.88,184.4 466.75,187.19 478.62,184.4 490.5,164.86 502.38,167.65 514.25,181.61 526.12,189.98 538,176.03 549.88,176.03 561.75,178.82 573.62,173.23 585.5,167.65 597.38,176.03 609.25,178.82 621.12,209.53 633,203.94" stroke="#ff0000" stroke-width="1.2"/>
<path d="M345.4 190.18L350.6 195.38M345.4 195.38L350.6 190.18M348 189.93L348 195.62M345.15 192.78L350.85 192.78M357.27 195.76L362.48 200.96M357.27 200.96L362.48 195.76M359.88 195.51L359.88 201.21M357.02 198.36L362.73 198.36M369.15 209.72L374.35 214.92M369.15 214.92L374.35 209.72M371.75 209.47L371.75 215.17M368.9 212.32L374.6 212.32M381.02 209.72L386.23 214.92M381.02 214.92L386.23 209.72M383.62 209.47L383.62 215.17M380.77 212.32L386.48 212.32M392.9 167.84L398.1 173.04M392.9 173.04L398.1 167.84M395.5 167.59L395.5 173.29M392.65 170.44L398.35 170.44M404.77 190.18L409.98 195.38M404.77 195.38L409.98 190.18M407.38 189.93L407.38 195.62M404.52 192.78L410.23 192.78M416.65 173.43L421.85 178.62M416.65 178.62L421.85 173.43M419.25 173.18L419.25 178.88M416.4 176.03L422.1 176.03M428.52 195.76L433.73 200.96M428.52 200.96L433.73 195.76M431.12 195.51L431.12 201.21M428.27 198.36L433.98 198.36M440.4 173.43L445.6 178.62M440.4 178.62L445.6 173.43M443 173.18L443 178.88M440.15 176.03L445.85 176.03M452.27 181.8L457.48 187M452.27 187L457.48 181.8M454.88 181.55L454.88 187.25M452.02 184.4L457.73 184.4M464.15 184.59L469.35 189.79M464.15 189.79L469.35 184.59M466.75 184.34L466.75 190.04M463.9 187.19L469.6 187.19M476.02 181.8L481.23 187M476.02 187L481.23 181.8M478.62 181.55L478.62 187.25M475.77 184.4L481.48 184.4M487.9 162.26L493.1 167.46M487.9 167.46L493.1 162.26M490.5 162.01L490.5 167.71M487.65 164.86L493.35 164.86M499.77 165.05L504.98 170.25M499.77 170.25L504.98 165.05M502.38 164.8L502.38 170.5M499.52 167.65L505.23 167.65M511.65 179.01L516.85 184.21M511.65 184.21L516.85 179.01M514.25 178.76L514.25 184.46M511.4 181.61L517.1 181.61M523.52 187.38L528.73 192.58M523.52 192.58L528.73 187.38M526.12 187.13L526.12 192.83M523.27 189.98L528.98 189.98M535.4 173.43L540.6 178.62M535.4 178.62L540.6 173.43M538 173.18L538 178.88M535.15 176.03L540.85 176.03M547.27 173.43L552.48 178.62M547.27 178.62L552.48 173.43M549.88 173.18L549.88 178.88M547.02 176.03L552.73 176.03M559.15 176.22L564.35 181.42M559.15 181.42L564.35 176.22M561.75 175.97L561.75 181.67M558.9 178.82L564.6 178.82M571.02 170.63L576.23 175.83M571.02 175.83L576.23 170.63M573.62 170.38L573.62 176.08M570.77 173.23L576.48 173.23M582.9 165.05L588.1 170.25M582.9 170.25L588.1 165.05M585.5 164.8L585.5 170.5M582.65 167.65L588.35 167.65M594.77 173.43L599.98 178.62M594.77 178.62L599.98 173.43M597.38 173.18L597.38 178.88M594.52 176.03L600.23 176.03M606.65 176.22L611.85 181.42M606.65 181.42L611.85 176.22M609.25 175.97L609.25 181.67M606.4 178.82L612.1 178.82M618.52 206.93L623.73 212.12M618.52 212.12L623.73 206.93M621.12 206.68L621.12 212.38M618.27 209.53L623.98 209.53M630.4 201.34L635.6 206.54M630.4 206.54L635.6 201.34M633 201.09L633 206.79M630.15 203.94L635.85 203.94" stroke="#ff0000" stroke-width="1.1"/>
</g>
<path d="M348 204.06H633M348 190.1H633M348 176.15H633M348 162.19H633M348 148.23H633" stroke="#000" stroke-width="1.1" stroke-dasharray="1.3 1.845" stroke-dashoffset="2.35" fill="none"/><path d="M395.65 134.15V217.9M443.15 134.15V217.9M490.65 134.15V217.9M538.15 134.15V217.9M585.65 134.15V217.9" stroke="#000" stroke-width="1" stroke-dasharray="1.3 1.845" stroke-dashoffset="0.5" fill="none"/>
</g>
<g>
<clipPath id="c4"><rect x="673.6" y="134.75" width="283.8" height="82.55"/></clipPath>
<path d="M696.9 134.15v4M696.9 217.9v-4M720.65 134.15v6M720.65 217.9v-6M744.4 134.15v4M744.4 217.9v-4M768.15 134.15v6M768.15 217.9v-6M791.9 134.15v4M791.9 217.9v-4M815.65 134.15v6M815.65 217.9v-6M839.4 134.15v4M839.4 217.9v-4M863.15 134.15v6M863.15 217.9v-6M886.9 134.15v4M886.9 217.9v-4M910.65 134.15v6M910.65 217.9v-6M934.4 134.15v4M934.4 217.9v-4M673 211.04h4M958 211.04h-4M673 204.06h6M958 204.06h-6M673 197.08h4M958 197.08h-4M673 190.1h6M958 190.1h-6M673 183.12h4M958 183.12h-4M673 176.15h6M958 176.15h-6M673 169.17h4M958 169.17h-4M673 162.19h6M958 162.19h-6M673 155.21h4M958 155.21h-4M673 148.23h6M958 148.23h-6M673 141.25h4M958 141.25h-4" stroke="#000" stroke-width="1.2" fill="none"/>
<rect x="673" y="134.15" width="285" height="83.75" fill="none" stroke="#000" stroke-width="1.75"/>
<text x="673" y="228.8" font-size="8.6" text-anchor="middle">0</text>
<text x="720.5" y="228.8" font-size="8.6" text-anchor="middle">4</text>
<text x="768" y="228.8" font-size="8.6" text-anchor="middle">8</text>
<text x="815.5" y="228.8" font-size="8.6" text-anchor="middle">1<tspan dx="-1.1">2</tspan></text>
<text x="863" y="228.8" font-size="8.6" text-anchor="middle">1<tspan dx="-1.1">6</tspan></text>
<text x="910.5" y="228.8" font-size="8.6" text-anchor="middle">20</text>
<text x="958" y="228.8" font-size="8.6" text-anchor="middle">24</text>
<text x="668" y="221" font-size="8.6" text-anchor="end">0</text>
<text x="668" y="207.04" font-size="8.6" text-anchor="end">2</text>
<text x="668" y="193.08" font-size="8.6" text-anchor="end">4</text>
<text x="668" y="179.12" font-size="8.6" text-anchor="end">6</text>
<text x="668" y="165.17" font-size="8.6" text-anchor="end">8</text>
<text x="668" y="151.21" font-size="8.6" text-anchor="end">1<tspan dx="-1.1">0</tspan></text>
<text x="668" y="137.25" font-size="8.6" text-anchor="end">1<tspan dx="-1.1">2</tspan></text>
<text class="t" y="130.85" font-size="8.8"><tspan x="902.8" textLength="15.9" lengthAdjust="spacingAndGlyphs">FSP</tspan> <tspan x="922.3" textLength="36.6" lengthAdjust="spacingAndGlyphs">(ug/m3)</tspan></text>
<g clip-path="url(#c4)" fill="none" stroke-linejoin="round">
<polyline points="673,183 684.88,196.96 696.75,183 708.62,203.94 720.5,217.9 732.38,217.9 744.25,210.92 756.12,210.92 768,203.94 779.88,196.96 791.75,183 803.62,183 815.5,183 827.38,169.05 839.25,189.98 851.12,196.96 863,169.05 874.88,169.05 886.75,183 898.62,196.96 910.5,203.94 922.38,217.9 934.25,203.94 946.12,189.98 958,169.05" stroke="#00ffff" stroke-width="1.2"/>
<path d="M670.4 180.4L675.6 185.6M670.4 185.6L675.6 180.4M673 180.15L673 185.85M670.15 183L675.85 183M682.27 194.36L687.48 199.56M682.27 199.56L687.48 194.36M684.88 194.11L684.88 199.81M682.02 196.96L687.73 196.96M694.15 180.4L699.35 185.6M694.15 185.6L699.35 180.4M696.75 180.15L696.75 185.85M693.9 183L699.6 183M706.02 201.34L711.23 206.54M706.02 206.54L711.23 201.34M708.62 201.09L708.62 206.79M705.77 203.94L711.48 203.94M717.9 215.3L723.1 220.5M717.9 220.5L723.1 215.3M720.5 215.05L720.5 220.75M717.65 217.9L723.35 217.9M729.77 215.3L734.98 220.5M729.77 220.5L734.98 215.3M732.38 215.05L732.38 220.75M729.52 217.9L735.23 217.9M741.65 208.32L746.85 213.52M741.65 213.52L746.85 208.32M744.25 208.07L744.25 213.77M741.4 210.92L747.1 210.92M753.52 208.32L758.73 213.52M753.52 213.52L758.73 208.32M756.12 208.07L756.12 213.77M753.27 210.92L758.98 210.92M765.4 201.34L770.6 206.54M765.4 206.54L770.6 201.34M768 201.09L768 206.79M765.15 203.94L770.85 203.94M777.27 194.36L782.48 199.56M777.27 199.56L782.48 194.36M779.88 194.11L779.88 199.81M777.02 196.96L782.73 196.96M789.15 180.4L794.35 185.6M789.15 185.6L794.35 180.4M791.75 180.15L791.75 185.85M788.9 183L794.6 183M801.02 180.4L806.23 185.6M801.02 185.6L806.23 180.4M803.62 180.15L803.62 185.85M800.77 183L806.48 183M812.9 180.4L818.1 185.6M812.9 185.6L818.1 180.4M815.5 180.15L815.5 185.85M812.65 183L818.35 183M824.77 166.45L829.98 171.65M824.77 171.65L829.98 166.45M827.38 166.2L827.38 171.9M824.52 169.05L830.23 169.05M836.65 187.38L841.85 192.58M836.65 192.58L841.85 187.38M839.25 187.13L839.25 192.83M836.4 189.98L842.1 189.98M848.52 194.36L853.73 199.56M848.52 199.56L853.73 194.36M851.12 194.11L851.12 199.81M848.27 196.96L853.98 196.96M860.4 166.45L865.6 171.65M860.4 171.65L865.6 166.45M863 166.2L863 171.9M860.15 169.05L865.85 169.05M872.27 166.45L877.48 171.65M872.27 171.65L877.48 166.45M874.88 166.2L874.88 171.9M872.02 169.05L877.73 169.05M884.15 180.4L889.35 185.6M884.15 185.6L889.35 180.4M886.75 180.15L886.75 185.85M883.9 183L889.6 183M896.02 194.36L901.23 199.56M896.02 199.56L901.23 194.36M898.62 194.11L898.62 199.81M895.77 196.96L901.48 196.96M907.9 201.34L913.1 206.54M907.9 206.54L913.1 201.34M910.5 201.09L910.5 206.79M907.65 203.94L913.35 203.94M919.77 215.3L924.98 220.5M919.77 220.5L924.98 215.3M922.38 215.05L922.38 220.75M919.52 217.9L925.23 217.9M931.65 201.34L936.85 206.54M931.65 206.54L936.85 201.34M934.25 201.09L934.25 206.79M931.4 203.94L937.1 203.94M943.52 187.38L948.73 192.58M943.52 192.58L948.73 187.38M946.12 187.13L946.12 192.83M943.27 189.98L948.98 189.98M955.4 166.45L960.6 171.65M955.4 171.65L960.6 166.45M958 166.2L958 171.9M955.15 169.05L960.85 169.05" stroke="#00ffff" stroke-width="1.1"/>
<polyline points="673,169.05 684.88,183 696.75,196.96 708.62,203.94 720.5,210.92 732.38,210.92 744.25,217.9 756.12,217.9 768,217.9 779.88,189.98 791.75,179.51 803.62,169.05 815.5,169.05 827.38,141.13 839.25,141.13 851.12,162.07 863,169.05 874.88,176.03 886.75,183 898.62,183 910.5,203.94 922.38,189.98 934.25,169.05 946.12,169.05 958,189.98" stroke="#00ff00" stroke-width="1.2"/>
<path d="M670.4 166.45L675.6 171.65M670.4 171.65L675.6 166.45M673 166.2L673 171.9M670.15 169.05L675.85 169.05M682.27 180.4L687.48 185.6M682.27 185.6L687.48 180.4M684.88 180.15L684.88 185.85M682.02 183L687.73 183M694.15 194.36L699.35 199.56M694.15 199.56L699.35 194.36M696.75 194.11L696.75 199.81M693.9 196.96L699.6 196.96M706.02 201.34L711.23 206.54M706.02 206.54L711.23 201.34M708.62 201.09L708.62 206.79M705.77 203.94L711.48 203.94M717.9 208.32L723.1 213.52M717.9 213.52L723.1 208.32M720.5 208.07L720.5 213.77M717.65 210.92L723.35 210.92M729.77 208.32L734.98 213.52M729.77 213.52L734.98 208.32M732.38 208.07L732.38 213.77M729.52 210.92L735.23 210.92M741.65 215.3L746.85 220.5M741.65 220.5L746.85 215.3M744.25 215.05L744.25 220.75M741.4 217.9L747.1 217.9M753.52 215.3L758.73 220.5M753.52 220.5L758.73 215.3M756.12 215.05L756.12 220.75M753.27 217.9L758.98 217.9M765.4 215.3L770.6 220.5M765.4 220.5L770.6 215.3M768 215.05L768 220.75M765.15 217.9L770.85 217.9M777.27 187.38L782.48 192.58M777.27 192.58L782.48 187.38M779.88 187.13L779.88 192.83M777.02 189.98L782.73 189.98M801.02 166.45L806.23 171.65M801.02 171.65L806.23 166.45M803.62 166.2L803.62 171.9M800.77 169.05L806.48 169.05M812.9 166.45L818.1 171.65M812.9 171.65L818.1 166.45M815.5 166.2L815.5 171.9M812.65 169.05L818.35 169.05M824.77 138.53L829.98 143.73M824.77 143.73L829.98 138.53M827.38 138.28L827.38 143.98M824.52 141.13L830.23 141.13M836.65 138.53L841.85 143.73M836.65 143.73L841.85 138.53M839.25 138.28L839.25 143.98M836.4 141.13L842.1 141.13M848.52 159.47L853.73 164.67M848.52 164.67L853.73 159.47M851.12 159.22L851.12 164.92M848.27 162.07L853.98 162.07M860.4 166.45L865.6 171.65M860.4 171.65L865.6 166.45M863 166.2L863 171.9M860.15 169.05L865.85 169.05M872.27 173.43L877.48 178.62M872.27 178.62L877.48 173.43M874.88 173.18L874.88 178.88M872.02 176.03L877.73 176.03M884.15 180.4L889.35 185.6M884.15 185.6L889.35 180.4M886.75 180.15L886.75 185.85M883.9 183L889.6 183M896.02 180.4L901.23 185.6M896.02 185.6L901.23 180.4M898.62 180.15L898.62 185.85M895.77 183L901.48 183M907.9 201.34L913.1 206.54M907.9 206.54L913.1 201.34M910.5 201.09L910.5 206.79M907.65 203.94L913.35 203.94M919.77 187.38L924.98 192.58M919.77 192.58L924.98 187.38M922.38 187.13L922.38 192.83M919.52 189.98L925.23 189.98M931.65 166.45L936.85 171.65M931.65 171.65L936.85 166.45M934.25 166.2L934.25 171.9M931.4 169.05L937.1 169.05M943.52 166.45L948.73 171.65M943.52 171.65L948.73 166.45M946.12 166.2L946.12 171.9M943.27 169.05L948.98 169.05M955.4 187.38L960.6 192.58M955.4 192.58L960.6 187.38M958 187.13L958 192.83M955.15 189.98L960.85 189.98" stroke="#00ff00" stroke-width="1.1"/>
<polyline points="673,189.98 684.88,189.98 696.75,196.96 708.62,210.92 720.5,210.92 732.38,210.92 744.25,196.96 756.12,210.92 768,196.96 779.88,176.03 791.75,169.05 803.62,176.03 815.5,169.05 827.38,155.09 839.25,169.05 851.12,162.07 863,148.11 874.88,155.09 886.75,155.09 898.62,155.09 910.5,169.05 922.38,176.03 934.25,176.03 946.12,189.98 958,189.98" stroke="#0000ff" stroke-width="1.2"/>
<path d="M670.4 187.38L675.6 192.58M670.4 192.58L675.6 187.38M673 187.13L673 192.83M670.15 189.98L675.85 189.98M682.27 187.38L687.48 192.58M682.27 192.58L687.48 187.38M684.88 187.13L684.88 192.83M682.02 189.98L687.73 189.98M694.15 194.36L699.35 199.56M694.15 199.56L699.35 194.36M696.75 194.11L696.75 199.81M693.9 196.96L699.6 196.96M706.02 208.32L711.23 213.52M706.02 213.52L711.23 208.32M708.62 208.07L708.62 213.77M705.77 210.92L711.48 210.92M717.9 208.32L723.1 213.52M717.9 213.52L723.1 208.32M720.5 208.07L720.5 213.77M717.65 210.92L723.35 210.92M729.77 208.32L734.98 213.52M729.77 213.52L734.98 208.32M732.38 208.07L732.38 213.77M729.52 210.92L735.23 210.92M741.65 194.36L746.85 199.56M741.65 199.56L746.85 194.36M744.25 194.11L744.25 199.81M741.4 196.96L747.1 196.96M753.52 208.32L758.73 213.52M753.52 213.52L758.73 208.32M756.12 208.07L756.12 213.77M753.27 210.92L758.98 210.92M765.4 194.36L770.6 199.56M765.4 199.56L770.6 194.36M768 194.11L768 199.81M765.15 196.96L770.85 196.96M777.27 173.43L782.48 178.62M777.27 178.62L782.48 173.43M779.88 173.18L779.88 178.88M777.02 176.03L782.73 176.03M789.15 166.45L794.35 171.65M789.15 171.65L794.35 166.45M791.75 166.2L791.75 171.9M788.9 169.05L794.6 169.05M801.02 173.43L806.23 178.62M801.02 178.62L806.23 173.43M803.62 173.18L803.62 178.88M800.77 176.03L806.48 176.03M812.9 166.45L818.1 171.65M812.9 171.65L818.1 166.45M815.5 166.2L815.5 171.9M812.65 169.05L818.35 169.05M824.77 152.49L829.98 157.69M824.77 157.69L829.98 152.49M827.38 152.24L827.38 157.94M824.52 155.09L830.23 155.09M836.65 166.45L841.85 171.65M836.65 171.65L841.85 166.45M839.25 166.2L839.25 171.9M836.4 169.05L842.1 169.05M848.52 159.47L853.73 164.67M848.52 164.67L853.73 159.47M851.12 159.22L851.12 164.92M848.27 162.07L853.98 162.07M860.4 145.51L865.6 150.71M860.4 150.71L865.6 145.51M863 145.26L863 150.96M860.15 148.11L865.85 148.11M872.27 152.49L877.48 157.69M872.27 157.69L877.48 152.49M874.88 152.24L874.88 157.94M872.02 155.09L877.73 155.09M884.15 152.49L889.35 157.69M884.15 157.69L889.35 152.49M886.75 152.24L886.75 157.94M883.9 155.09L889.6 155.09M896.02 152.49L901.23 157.69M896.02 157.69L901.23 152.49M898.62 152.24L898.62 157.94M895.77 155.09L901.48 155.09M907.9 166.45L913.1 171.65M907.9 171.65L913.1 166.45M910.5 166.2L910.5 171.9M907.65 169.05L913.35 169.05M919.77 173.43L924.98 178.62M919.77 178.62L924.98 173.43M922.38 173.18L922.38 178.88M919.52 176.03L925.23 176.03M931.65 173.43L936.85 178.62M931.65 178.62L936.85 173.43M934.25 173.18L934.25 178.88M931.4 176.03L937.1 176.03M943.52 187.38L948.73 192.58M943.52 192.58L948.73 187.38M946.12 187.13L946.12 192.83M943.27 189.98L948.98 189.98M955.4 187.38L960.6 192.58M955.4 192.58L960.6 187.38M958 187.13L958 192.83M955.15 189.98L960.85 189.98" stroke="#0000ff" stroke-width="1.1"/>
<polyline points="673,189.98 684.88,183 696.75,210.92 708.62,217.9 720.5,203.94 732.38,217.9 744.25,217.9 756.12,210.92 768,203.94 779.88,189.98 791.75,196.96 803.62,189.98 815.5,183 827.38,196.96 839.25,183 851.12,169.05 863,189.98 874.88,196.96 886.75,183 898.62,183 910.5,155.09 922.38,141.13 934.25,183 946.12,210.92 958,217.9" stroke="#ff0000" stroke-width="1.2"/>
<path d="M670.4 187.38L675.6 192.58M670.4 192.58L675.6 187.38M673 187.13L673 192.83M670.15 189.98L675.85 189.98M682.27 180.4L687.48 185.6M682.27 185.6L687.48 180.4M684.88 180.15L684.88 185.85M682.02 183L687.73 183M694.15 208.32L699.35 213.52M694.15 213.52L699.35 208.32M696.75 208.07L696.75 213.77M693.9 210.92L699.6 210.92M706.02 215.3L711.23 220.5M706.02 220.5L711.23 215.3M708.62 215.05L708.62 220.75M705.77 217.9L711.48 217.9M717.9 201.34L723.1 206.54M717.9 206.54L723.1 201.34M720.5 201.09L720.5 206.79M717.65 203.94L723.35 203.94M729.77 215.3L734.98 220.5M729.77 220.5L734.98 215.3M732.38 215.05L732.38 220.75M729.52 217.9L735.23 217.9M741.65 215.3L746.85 220.5M741.65 220.5L746.85 215.3M744.25 215.05L744.25 220.75M741.4 217.9L747.1 217.9M753.52 208.32L758.73 213.52M753.52 213.52L758.73 208.32M756.12 208.07L756.12 213.77M753.27 210.92L758.98 210.92M765.4 201.34L770.6 206.54M765.4 206.54L770.6 201.34M768 201.09L768 206.79M765.15 203.94L770.85 203.94M777.27 187.38L782.48 192.58M777.27 192.58L782.48 187.38M779.88 187.13L779.88 192.83M777.02 189.98L782.73 189.98M789.15 194.36L794.35 199.56M789.15 199.56L794.35 194.36M791.75 194.11L791.75 199.81M788.9 196.96L794.6 196.96M801.02 187.38L806.23 192.58M801.02 192.58L806.23 187.38M803.62 187.13L803.62 192.83M800.77 189.98L806.48 189.98M812.9 180.4L818.1 185.6M812.9 185.6L818.1 180.4M815.5 180.15L815.5 185.85M812.65 183L818.35 183M824.77 194.36L829.98 199.56M824.77 199.56L829.98 194.36M827.38 194.11L827.38 199.81M824.52 196.96L830.23 196.96M836.65 180.4L841.85 185.6M836.65 185.6L841.85 180.4M839.25 180.15L839.25 185.85M836.4 183L842.1 183M848.52 166.45L853.73 171.65M848.52 171.65L853.73 166.45M851.12 166.2L851.12 171.9M848.27 169.05L853.98 169.05M860.4 187.38L865.6 192.58M860.4 192.58L865.6 187.38M863 187.13L863 192.83M860.15 189.98L865.85 189.98M872.27 194.36L877.48 199.56M872.27 199.56L877.48 194.36M874.88 194.11L874.88 199.81M872.02 196.96L877.73 196.96M884.15 180.4L889.35 185.6M884.15 185.6L889.35 180.4M886.75 180.15L886.75 185.85M883.9 183L889.6 183M896.02 180.4L901.23 185.6M896.02 185.6L901.23 180.4M898.62 180.15L898.62 185.85M895.77 183L901.48 183M907.9 152.49L913.1 157.69M907.9 157.69L913.1 152.49M910.5 152.24L910.5 157.94M907.65 155.09L913.35 155.09M919.77 138.53L924.98 143.73M919.77 143.73L924.98 138.53M922.38 138.28L922.38 143.98M919.52 141.13L925.23 141.13M931.65 180.4L936.85 185.6M931.65 185.6L936.85 180.4M934.25 180.15L934.25 185.85M931.4 183L937.1 183M943.52 208.32L948.73 213.52M943.52 213.52L948.73 208.32M946.12 208.07L946.12 213.77M943.27 210.92L948.98 210.92M955.4 215.3L960.6 220.5M955.4 220.5L960.6 215.3M958 215.05L958 220.75M955.15 217.9L960.85 217.9" stroke="#ff0000" stroke-width="1.1"/>
</g>
<path d="M673 204.06H958M673 190.1H958M673 176.15H958M673 162.19H958M673 148.23H958" stroke="#000" stroke-width="1.1" stroke-dasharray="1.3 1.845" stroke-dashoffset="2.35" fill="none"/><path d="M720.65 134.15V217.9M768.15 134.15V217.9M815.65 134.15V217.9M863.15 134.15V217.9M910.65 134.15V217.9" stroke="#000" stroke-width="1" stroke-dasharray="1.3 1.845" stroke-dashoffset="0.5" fill="none"/>
</g>
<g>
<clipPath id="c5"><rect x="23.6" y="242.75" width="283.8" height="82.55"/></clipPath>
<path d="M46.9 242.15v4M46.9 325.9v-4M70.65 242.15v6M70.65 325.9v-6M94.4 242.15v4M94.4 325.9v-4M118.15 242.15v6M118.15 325.9v-6M141.9 242.15v4M141.9 325.9v-4M165.65 242.15v6M165.65 325.9v-6M189.4 242.15v4M189.4 325.9v-4M213.15 242.15v6M213.15 325.9v-6M236.9 242.15v4M236.9 325.9v-4M260.65 242.15v6M260.65 325.9v-6M284.4 242.15v4M284.4 325.9v-4M23 319.04h4M308 319.04h-4M23 312.06h6M308 312.06h-6M23 305.08h4M308 305.08h-4M23 298.1h6M308 298.1h-6M23 291.12h4M308 291.12h-4M23 284.14h6M308 284.14h-6M23 277.17h4M308 277.17h-4M23 270.19h6M308 270.19h-6M23 263.21h4M308 263.21h-4M23 256.23h6M308 256.23h-6M23 249.25h4M308 249.25h-4" stroke="#000" stroke-width="1.2" fill="none"/>
<rect x="23" y="242.15" width="285" height="83.75" fill="none" stroke="#000" stroke-width="1.75"/>
<text x="23" y="336.8" font-size="8.6" text-anchor="middle">0</text>
<text x="70.5" y="336.8" font-size="8.6" text-anchor="middle">4</text>
<text x="118" y="336.8" font-size="8.6" text-anchor="middle">8</text>
<text x="165.5" y="336.8" font-size="8.6" text-anchor="middle">1<tspan dx="-1.1">2</tspan></text>
<text x="213" y="336.8" font-size="8.6" text-anchor="middle">1<tspan dx="-1.1">6</tspan></text>
<text x="260.5" y="336.8" font-size="8.6" text-anchor="middle">20</text>
<text x="308" y="336.8" font-size="8.6" text-anchor="middle">24</text>
<text x="18" y="329" font-size="8.6" text-anchor="end">0<tspan dx="-0.25">.</tspan><tspan dx="-0.45">0</tspan></text>
<text x="18" y="315.04" font-size="8.6" text-anchor="end">0<tspan dx="-0.25">.</tspan><tspan dx="-0.45">5</tspan></text>
<text x="18" y="301.08" font-size="8.6" text-anchor="end">1<tspan dx="-1.35">.</tspan><tspan dx="-0.45">0</tspan></text>
<text x="18" y="287.12" font-size="8.6" text-anchor="end">1<tspan dx="-1.35">.</tspan><tspan dx="-0.45">5</tspan></text>
<text x="18" y="273.17" font-size="8.6" text-anchor="end">2<tspan dx="-0.25">.</tspan><tspan dx="-0.45">0</tspan></text>
<text x="18" y="259.21" font-size="8.6" text-anchor="end">2<tspan dx="-0.25">.</tspan><tspan dx="-0.45">5</tspan></text>
<text x="18" y="245.25" font-size="8.6" text-anchor="end">3<tspan dx="-0.25">.</tspan><tspan dx="-0.45">0</tspan></text>
<text class="t" y="238.85" font-size="8.8"><tspan x="267.1" textLength="15.6" lengthAdjust="spacingAndGlyphs">SO2</tspan> <tspan x="286.3" textLength="22.6" lengthAdjust="spacingAndGlyphs">(ppb)</tspan></text>
<g clip-path="url(#c5)" fill="none" stroke-linejoin="round">
<polyline points="23,315.29 34.88,315.29 46.75,315.29 58.62,315.29 70.5,315.29 82.38,315.29 94.25,315.29 106.12,315.29 118,304.68 129.88,304.68 141.75,304.68 153.62,304.68 165.5,304.68 177.38,304.68 189.25,304.68 201.12,304.68 213,304.68 224.88,304.68 236.75,304.68 248.62,315.29 260.5,304.68 272.38,304.68 284.25,315.29 296.12,315.29 308,315.29" stroke="#00ffff" stroke-width="1.2"/>
<path d="M20.4 312.69L25.6 317.89M20.4 317.89L25.6 312.69M23 312.44L23 318.14M20.15 315.29L25.85 315.29M32.27 312.69L37.48 317.89M32.27 317.89L37.48 312.69M34.88 312.44L34.88 318.14M32.02 315.29L37.73 315.29M44.15 312.69L49.35 317.89M44.15 317.89L49.35 312.69M46.75 312.44L46.75 318.14M43.9 315.29L49.6 315.29M56.02 312.69L61.23 317.89M56.02 317.89L61.23 312.69M58.62 312.44L58.62 318.14M55.77 315.29L61.48 315.29M67.9 312.69L73.1 317.89M67.9 317.89L73.1 312.69M70.5 312.44L70.5 318.14M67.65 315.29L73.35 315.29M79.78 312.69L84.97 317.89M79.78 317.89L84.97 312.69M82.38 312.44L82.38 318.14M79.53 315.29L85.22 315.29M91.65 312.69L96.85 317.89M91.65 317.89L96.85 312.69M94.25 312.44L94.25 318.14M91.4 315.29L97.1 315.29M103.53 312.69L108.72 317.89M103.53 317.89L108.72 312.69M106.12 312.44L106.12 318.14M103.28 315.29L108.97 315.29M115.4 302.08L120.6 307.28M115.4 307.28L120.6 302.08M118 301.83L118 307.53M115.15 304.68L120.85 304.68M127.28 302.08L132.47 307.28M127.28 307.28L132.47 302.08M129.88 301.83L129.88 307.53M127.03 304.68L132.72 304.68M139.15 302.08L144.35 307.28M139.15 307.28L144.35 302.08M141.75 301.83L141.75 307.53M138.9 304.68L144.6 304.68M151.03 302.08L156.22 307.28M151.03 307.28L156.22 302.08M153.62 301.83L153.62 307.53M150.78 304.68L156.47 304.68M162.9 302.08L168.1 307.28M162.9 307.28L168.1 302.08M165.5 301.83L165.5 307.53M162.65 304.68L168.35 304.68M174.78 302.08L179.97 307.28M174.78 307.28L179.97 302.08M177.38 301.83L177.38 307.53M174.53 304.68L180.22 304.68M186.65 302.08L191.85 307.28M186.65 307.28L191.85 302.08M189.25 301.83L189.25 307.53M186.4 304.68L192.1 304.68M198.53 302.08L203.72 307.28M198.53 307.28L203.72 302.08M201.12 301.83L201.12 307.53M198.28 304.68L203.97 304.68M210.4 302.08L215.6 307.28M210.4 307.28L215.6 302.08M213 301.83L213 307.53M210.15 304.68L215.85 304.68M222.28 302.08L227.47 307.28M222.28 307.28L227.47 302.08M224.88 301.83L224.88 307.53M222.03 304.68L227.72 304.68M234.15 302.08L239.35 307.28M234.15 307.28L239.35 302.08M236.75 301.83L236.75 307.53M233.9 304.68L239.6 304.68M246.03 312.69L251.22 317.89M246.03 317.89L251.22 312.69M248.62 312.44L248.62 318.14M245.78 315.29L251.47 315.29M257.9 302.08L263.1 307.28M257.9 307.28L263.1 302.08M260.5 301.83L260.5 307.53M257.65 304.68L263.35 304.68M269.77 302.08L274.98 307.28M269.77 307.28L274.98 302.08M272.38 301.83L272.38 307.53M269.52 304.68L275.23 304.68M281.65 312.69L286.85 317.89M281.65 317.89L286.85 312.69M284.25 312.44L284.25 318.14M281.4 315.29L287.1 315.29M293.52 312.69L298.73 317.89M293.52 317.89L298.73 312.69M296.12 312.44L296.12 318.14M293.27 315.29L298.98 315.29M305.4 312.69L310.6 317.89M305.4 317.89L310.6 312.69M308 312.44L308 318.14M305.15 315.29L310.85 315.29" stroke="#00ffff" stroke-width="1.1"/>
<polyline points="23,315.29 34.88,309.99 46.75,304.68 58.62,315.29 70.5,299.24 82.38,283.19 94.25,304.68 106.12,304.68 118,304.68 129.88,304.68 141.75,304.68 153.62,277.88 165.5,251.36 177.38,293.8 189.25,293.8 201.12,304.68 213,304.68 224.88,304.68 236.75,304.68 248.62,304.68 260.5,304.68 272.38,315.29 284.25,315.29 296.12,315.29 308,315.29" stroke="#00ff00" stroke-width="1.2"/>
<path d="M20.4 312.69L25.6 317.89M20.4 317.89L25.6 312.69M23 312.44L23 318.14M20.15 315.29L25.85 315.29M44.15 302.08L49.35 307.28M44.15 307.28L49.35 302.08M46.75 301.83L46.75 307.53M43.9 304.68L49.6 304.68M56.02 312.69L61.23 317.89M56.02 317.89L61.23 312.69M58.62 312.44L58.62 318.14M55.77 315.29L61.48 315.29M79.78 280.59L84.97 285.79M79.78 285.79L84.97 280.59M82.38 280.34L82.38 286.04M79.53 283.19L85.22 283.19M91.65 302.08L96.85 307.28M91.65 307.28L96.85 302.08M94.25 301.83L94.25 307.53M91.4 304.68L97.1 304.68M103.53 302.08L108.72 307.28M103.53 307.28L108.72 302.08M106.12 301.83L106.12 307.53M103.28 304.68L108.97 304.68M115.4 302.08L120.6 307.28M115.4 307.28L120.6 302.08M118 301.83L118 307.53M115.15 304.68L120.85 304.68M127.28 302.08L132.47 307.28M127.28 307.28L132.47 302.08M129.88 301.83L129.88 307.53M127.03 304.68L132.72 304.68M139.15 302.08L144.35 307.28M139.15 307.28L144.35 302.08M141.75 301.83L141.75 307.53M138.9 304.68L144.6 304.68M162.9 248.76L168.1 253.96M162.9 253.96L168.1 248.76M165.5 248.51L165.5 254.21M162.65 251.36L168.35 251.36M174.78 291.2L179.97 296.4M174.78 296.4L179.97 291.2M177.38 290.95L177.38 296.65M174.53 293.8L180.22 293.8M186.65 291.2L191.85 296.4M186.65 296.4L191.85 291.2M189.25 290.95L189.25 296.65M186.4 293.8L192.1 293.8M198.53 302.08L203.72 307.28M198.53 307.28L203.72 302.08M201.12 301.83L201.12 307.53M198.28 304.68L203.97 304.68M210.4 302.08L215.6 307.28M210.4 307.28L215.6 302.08M213 301.83L213 307.53M210.15 304.68L215.85 304.68M222.28 302.08L227.47 307.28M222.28 307.28L227.47 302.08M224.88 301.83L224.88 307.53M222.03 304.68L227.72 304.68M234.15 302.08L239.35 307.28M234.15 307.28L239.35 302.08M236.75 301.83L236.75 307.53M233.9 304.68L239.6 304.68M246.03 302.08L251.22 307.28M246.03 307.28L251.22 302.08M248.62 301.83L248.62 307.53M245.78 304.68L251.47 304.68M257.9 302.08L263.1 307.28M257.9 307.28L263.1 302.08M260.5 301.83L260.5 307.53M257.65 304.68L263.35 304.68M269.77 312.69L274.98 317.89M269.77 317.89L274.98 312.69M272.38 312.44L272.38 318.14M269.52 315.29L275.23 315.29M281.65 312.69L286.85 317.89M281.65 317.89L286.85 312.69M284.25 312.44L284.25 318.14M281.4 315.29L287.1 315.29M293.52 312.69L298.73 317.89M293.52 317.89L298.73 312.69M296.12 312.44L296.12 318.14M293.27 315.29L298.98 315.29M305.4 312.69L310.6 317.89M305.4 317.89L310.6 312.69M308 312.44L308 318.14M305.15 315.29L310.85 315.29" stroke="#00ff00" stroke-width="1.1"/>
<polyline points="23,315.29 34.88,315.29 46.75,315.29 58.62,315.29 70.5,315.29 82.38,315.29 94.25,315.29 106.12,315.29 118,304.68 129.88,304.68 141.75,304.68 153.62,304.68 165.5,304.68 177.38,304.68 189.25,304.68 201.12,315.29 213,304.68 224.88,315.29 236.75,304.68 248.62,304.68 260.5,315.29 272.38,325.9 284.25,325.9 296.12,315.29 308,315.29" stroke="#0000ff" stroke-width="1.2"/>
<path d="M20.4 312.69L25.6 317.89M20.4 317.89L25.6 312.69M23 312.44L23 318.14M20.15 315.29L25.85 315.29M32.27 312.69L37.48 317.89M32.27 317.89L37.48 312.69M34.88 312.44L34.88 318.14M32.02 315.29L37.73 315.29M44.15 312.69L49.35 317.89M44.15 317.89L49.35 312.69M46.75 312.44L46.75 318.14M43.9 315.29L49.6 315.29M56.02 312.69L61.23 317.89M56.02 317.89L61.23 312.69M58.62 312.44L58.62 318.14M55.77 315.29L61.48 315.29M67.9 312.69L73.1 317.89M67.9 317.89L73.1 312.69M70.5 312.44L70.5 318.14M67.65 315.29L73.35 315.29M79.78 312.69L84.97 317.89M79.78 317.89L84.97 312.69M82.38 312.44L82.38 318.14M79.53 315.29L85.22 315.29M91.65 312.69L96.85 317.89M91.65 317.89L96.85 312.69M94.25 312.44L94.25 318.14M91.4 315.29L97.1 315.29M103.53 312.69L108.72 317.89M103.53 317.89L108.72 312.69M106.12 312.44L106.12 318.14M103.28 315.29L108.97 315.29M115.4 302.08L120.6 307.28M115.4 307.28L120.6 302.08M118 301.83L118 307.53M115.15 304.68L120.85 304.68M127.28 302.08L132.47 307.28M127.28 307.28L132.47 302.08M129.88 301.83L129.88 307.53M127.03 304.68L132.72 304.68M139.15 302.08L144.35 307.28M139.15 307.28L144.35 302.08M141.75 301.83L141.75 307.53M138.9 304.68L144.6 304.68M151.03 302.08L156.22 307.28M151.03 307.28L156.22 302.08M153.62 301.83L153.62 307.53M150.78 304.68L156.47 304.68M162.9 302.08L168.1 307.28M162.9 307.28L168.1 302.08M165.5 301.83L165.5 307.53M162.65 304.68L168.35 304.68M174.78 302.08L179.97 307.28M174.78 307.28L179.97 302.08M177.38 301.83L177.38 307.53M174.53 304.68L180.22 304.68M186.65 302.08L191.85 307.28M186.65 307.28L191.85 302.08M189.25 301.83L189.25 307.53M186.4 304.68L192.1 304.68M198.53 312.69L203.72 317.89M198.53 317.89L203.72 312.69M201.12 312.44L201.12 318.14M198.28 315.29L203.97 315.29M210.4 302.08L215.6 307.28M210.4 307.28L215.6 302.08M213 301.83L213 307.53M210.15 304.68L215.85 304.68M222.28 312.69L227.47 317.89M222.28 317.89L227.47 312.69M224.88 312.44L224.88 318.14M222.03 315.29L227.72 315.29M234.15 302.08L239.35 307.28M234.15 307.28L239.35 302.08M236.75 301.83L236.75 307.53M233.9 304.68L239.6 304.68M246.03 302.08L251.22 307.28M246.03 307.28L251.22 302.08M248.62 301.83L248.62 307.53M245.78 304.68L251.47 304.68M257.9 312.69L263.1 317.89M257.9 317.89L263.1 312.69M260.5 312.44L260.5 318.14M257.65 315.29L263.35 315.29M269.77 323.3L274.98 328.5M269.77 328.5L274.98 323.3M272.38 323.05L272.38 328.75M269.52 325.9L275.23 325.9M281.65 323.3L286.85 328.5M281.65 328.5L286.85 323.3M284.25 323.05L284.25 328.75M281.4 325.9L287.1 325.9M293.52 312.69L298.73 317.89M293.52 317.89L298.73 312.69M296.12 312.44L296.12 318.14M293.27 315.29L298.98 315.29M305.4 312.69L310.6 317.89M305.4 317.89L310.6 312.69M308 312.44L308 318.14M305.15 315.29L310.85 315.29" stroke="#0000ff" stroke-width="1.1"/>
<polyline points="23,315.29 34.88,315.29 46.75,315.29 58.62,315.29 70.5,299.24 82.38,283.19 94.25,304.68 106.12,315.29 118,315.29 129.88,304.68 141.75,315.29 153.62,304.68 165.5,304.68 177.38,315.29 189.25,304.68 201.12,304.68 213,293.8 224.88,304.68 236.75,304.68 248.62,315.29 260.5,315.29 272.38,315.29 284.25,315.29 296.12,315.29 308,315.29" stroke="#ff0000" stroke-width="1.2"/>
<path d="M20.4 312.69L25.6 317.89M20.4 317.89L25.6 312.69M23 312.44L23 318.14M20.15 315.29L25.85 315.29M32.27 312.69L37.48 317.89M32.27 317.89L37.48 312.69M34.88 312.44L34.88 318.14M32.02 315.29L37.73 315.29M44.15 312.69L49.35 317.89M44.15 317.89L49.35 312.69M46.75 312.44L46.75 318.14M43.9 315.29L49.6 315.29M56.02 312.69L61.23 317.89M56.02 317.89L61.23 312.69M58.62 312.44L58.62 318.14M55.77 315.29L61.48 315.29M79.78 280.59L84.97 285.79M79.78 285.79L84.97 280.59M82.38 280.34L82.38 286.04M79.53 283.19L85.22 283.19M91.65 302.08L96.85 307.28M91.65 307.28L96.85 302.08M94.25 301.83L94.25 307.53M91.4 304.68L97.1 304.68M103.53 312.69L108.72 317.89M103.53 317.89L108.72 312.69M106.12 312.44L106.12 318.14M103.28 315.29L108.97 315.29M115.4 312.69L120.6 317.89M115.4 317.89L120.6 312.69M118 312.44L118 318.14M115.15 315.29L120.85 315.29M127.28 302.08L132.47 307.28M127.28 307.28L132.47 302.08M129.88 301.83L129.88 307.53M127.03 304.68L132.72 304.68M139.15 312.69L144.35 317.89M139.15 317.89L144.35 312.69M141.75 312.44L141.75 318.14M138.9 315.29L144.6 315.29M151.03 302.08L156.22 307.28M151.03 307.28L156.22 302.08M153.62 301.83L153.62 307.53M150.78 304.68L156.47 304.68M162.9 302.08L168.1 307.28M162.9 307.28L168.1 302.08M165.5 301.83L165.5 307.53M162.65 304.68L168.35 304.68M174.78 312.69L179.97 317.89M174.78 317.89L179.97 312.69M177.38 312.44L177.38 318.14M174.53 315.29L180.22 315.29M186.65 302.08L191.85 307.28M186.65 307.28L191.85 302.08M189.25 301.83L189.25 307.53M186.4 304.68L192.1 304.68M198.53 302.08L203.72 307.28M198.53 307.28L203.72 302.08M201.12 301.83L201.12 307.53M198.28 304.68L203.97 304.68M210.4 291.2L215.6 296.4M210.4 296.4L215.6 291.2M213 290.95L213 296.65M210.15 293.8L215.85 293.8M222.28 302.08L227.47 307.28M222.28 307.28L227.47 302.08M224.88 301.83L224.88 307.53M222.03 304.68L227.72 304.68M234.15 302.08L239.35 307.28M234.15 307.28L239.35 302.08M236.75 301.83L236.75 307.53M233.9 304.68L239.6 304.68M246.03 312.69L251.22 317.89M246.03 317.89L251.22 312.69M248.62 312.44L248.62 318.14M245.78 315.29L251.47 315.29M257.9 312.69L263.1 317.89M257.9 317.89L263.1 312.69M260.5 312.44L260.5 318.14M257.65 315.29L263.35 315.29M269.77 312.69L274.98 317.89M269.77 317.89L274.98 312.69M272.38 312.44L272.38 318.14M269.52 315.29L275.23 315.29M281.65 312.69L286.85 317.89M281.65 317.89L286.85 312.69M284.25 312.44L284.25 318.14M281.4 315.29L287.1 315.29M293.52 312.69L298.73 317.89M293.52 317.89L298.73 312.69M296.12 312.44L296.12 318.14M293.27 315.29L298.98 315.29M305.4 312.69L310.6 317.89M305.4 317.89L310.6 312.69M308 312.44L308 318.14M305.15 315.29L310.85 315.29" stroke="#ff0000" stroke-width="1.1"/>
</g>
<path d="M23 312.06H308M23 298.1H308M23 284.14H308M23 270.19H308M23 256.23H308" stroke="#000" stroke-width="1.1" stroke-dasharray="1.3 1.845" stroke-dashoffset="2.35" fill="none"/><path d="M70.65 242.15V325.9M118.15 242.15V325.9M165.65 242.15V325.9M213.15 242.15V325.9M260.65 242.15V325.9" stroke="#000" stroke-width="1" stroke-dasharray="1.3 1.845" stroke-dashoffset="0.5" fill="none"/>
</g>
<g>
<clipPath id="c6"><rect x="348.6" y="242.75" width="283.8" height="82.55"/></clipPath>
<path d="M371.9 242.15v4M371.9 325.9v-4M395.65 242.15v6M395.65 325.9v-6M419.4 242.15v4M419.4 325.9v-4M443.15 242.15v6M443.15 325.9v-6M466.9 242.15v4M466.9 325.9v-4M490.65 242.15v6M490.65 325.9v-6M514.4 242.15v4M514.4 325.9v-4M538.15 242.15v6M538.15 325.9v-6M561.9 242.15v4M561.9 325.9v-4M585.65 242.15v6M585.65 325.9v-6M609.4 242.15v4M609.4 325.9v-4M348 317.64h4M633 317.64h-4M348 309.27h6M633 309.27h-6M348 300.89h4M633 300.89h-4M348 292.52h6M633 292.52h-6M348 284.14h4M633 284.14h-4M348 275.77h6M633 275.77h-6M348 267.39h4M633 267.39h-4M348 259.02h6M633 259.02h-6M348 250.65h4M633 250.65h-4" stroke="#000" stroke-width="1.2" fill="none"/>
<rect x="348" y="242.15" width="285" height="83.75" fill="none" stroke="#000" stroke-width="1.75"/>
<text x="348" y="336.8" font-size="8.6" text-anchor="middle">0</text>
<text x="395.5" y="336.8" font-size="8.6" text-anchor="middle">4</text>
<text x="443" y="336.8" font-size="8.6" text-anchor="middle">8</text>
<text x="490.5" y="336.8" font-size="8.6" text-anchor="middle">1<tspan dx="-1.1">2</tspan></text>
<text x="538" y="336.8" font-size="8.6" text-anchor="middle">1<tspan dx="-1.1">6</tspan></text>
<text x="585.5" y="336.8" font-size="8.6" text-anchor="middle">20</text>
<text x="633" y="336.8" font-size="8.6" text-anchor="middle">24</text>
<text x="343" y="329" font-size="8.6" text-anchor="end">0</text>
<text x="343" y="312.25" font-size="8.6" text-anchor="end">5</text>
<text x="343" y="295.5" font-size="8.6" text-anchor="end">1<tspan dx="-1.1">0</tspan></text>
<text x="343" y="278.75" font-size="8.6" text-anchor="end">1<tspan dx="-1.1">5</tspan></text>
<text x="343" y="262" font-size="8.6" text-anchor="end">20</text>
<text x="343" y="245.25" font-size="8.6" text-anchor="end">25</text>
<text class="t" y="238.85" font-size="8.8"><tspan x="597.6" textLength="10.1" lengthAdjust="spacingAndGlyphs">O3</tspan> <tspan x="611.3" textLength="22.6" lengthAdjust="spacingAndGlyphs">(ppb)</tspan></text>
<g clip-path="url(#c6)" fill="none" stroke-linejoin="round">
<polyline points="348,296.75 359.88,299.44 371.75,302.45 383.62,307.14 395.5,302.12 407.38,304.46 419.25,305.46 431.12,312.16 443,317.86 454.88,317.86 466.75,315.51 478.62,300.44 490.5,274.31 502.38,295.08 514.25,292.06 526.12,273.31 538,265.94 549.88,255.88 561.75,277.66 573.62,271.63 585.5,292.06 597.38,286.7 609.25,276.32 621.12,267.61 633,267.61" stroke="#00ffff" stroke-width="1.2"/>
<path d="M345.4 294.15L350.6 299.36M345.4 299.36L350.6 294.15M348 293.9L348 299.61M345.15 296.75L350.85 296.75M357.27 296.83L362.48 302.04M357.27 302.04L362.48 296.83M359.88 296.58L359.88 302.29M357.02 299.44L362.73 299.44M369.15 299.85L374.35 305.05M369.15 305.05L374.35 299.85M371.75 299.6L371.75 305.3M368.9 302.45L374.6 302.45M381.02 304.54L386.23 309.74M381.02 309.74L386.23 304.54M383.62 304.29L383.62 309.99M380.77 307.14L386.48 307.14M392.9 299.51L398.1 304.72M392.9 304.72L398.1 299.51M395.5 299.26L395.5 304.97M392.65 302.12L398.35 302.12M404.77 301.86L409.98 307.06M404.77 307.06L409.98 301.86M407.38 301.61L407.38 307.31M404.52 304.46L410.23 304.46M416.65 302.86L421.85 308.06M416.65 308.06L421.85 302.86M419.25 302.61L419.25 308.31M416.4 305.46L422.1 305.46M428.52 309.56L433.73 314.76M428.52 314.76L433.73 309.56M431.12 309.31L431.12 315.01M428.27 312.16L433.98 312.16M440.4 315.26L445.6 320.46M440.4 320.46L445.6 315.26M443 315.01L443 320.71M440.15 317.86L445.85 317.86M452.27 315.26L457.48 320.46M452.27 320.46L457.48 315.26M454.88 315.01L454.88 320.71M452.02 317.86L457.73 317.86M464.15 312.91L469.35 318.12M464.15 318.12L469.35 312.91M466.75 312.66L466.75 318.37M463.9 315.51L469.6 315.51M476.02 297.84L481.23 303.04M476.02 303.04L481.23 297.84M478.62 297.59L478.62 303.29M475.77 300.44L481.48 300.44M487.9 271.71L493.1 276.91M487.9 276.91L493.1 271.71M490.5 271.46L490.5 277.16M487.65 274.31L493.35 274.31M499.77 292.48L504.98 297.68M499.77 297.68L504.98 292.48M502.38 292.23L502.38 297.93M499.52 295.08L505.23 295.08M511.65 289.46L516.85 294.67M511.65 294.67L516.85 289.46M514.25 289.21L514.25 294.92M511.4 292.06L517.1 292.06M523.52 270.7L528.73 275.91M523.52 275.91L528.73 270.7M526.12 270.45L526.12 276.16M523.27 273.31L528.98 273.31M535.4 263.33L540.6 268.54M535.4 268.54L540.6 263.33M538 263.08L538 268.79M535.15 265.94L540.85 265.94M547.27 253.28L552.48 258.49M547.27 258.49L552.48 253.28M549.88 253.03L549.88 258.74M547.02 255.88L552.73 255.88M559.15 275.06L564.35 280.26M559.15 280.26L564.35 275.06M561.75 274.81L561.75 280.51M558.9 277.66L564.6 277.66M571.02 269.03L576.23 274.23M571.02 274.23L576.23 269.03M573.62 268.78L573.62 274.48M570.77 271.63L576.48 271.63M582.9 289.46L588.1 294.67M582.9 294.67L588.1 289.46M585.5 289.21L585.5 294.92M582.65 292.06L588.35 292.06M594.77 284.1L599.98 289.31M594.77 289.31L599.98 284.1M597.38 283.85L597.38 289.56M594.52 286.7L600.23 286.7M606.65 273.72L611.85 278.92M606.65 278.92L611.85 273.72M609.25 273.47L609.25 279.17M606.4 276.32L612.1 276.32M618.52 265.01L623.73 270.21M618.52 270.21L623.73 265.01M621.12 264.76L621.12 270.46M618.27 267.61L623.98 267.61M630.4 265.01L635.6 270.21M630.4 270.21L635.6 265.01M633 264.76L633 270.46M630.15 267.61L635.85 267.61" stroke="#00ffff" stroke-width="1.1"/>
<polyline points="348,267.61 359.88,269.62 371.75,270.96 383.62,276.32 395.5,286.7 407.38,297.43 419.25,305.46 431.12,305.46 443,312.16 454.88,312.16 466.75,315.51 478.62,298.76 490.5,274.98 502.38,284.69 514.25,312.16 526.12,290.06 538,295.08 549.88,298.76 561.75,300.44 573.62,307.14 585.5,307.14 597.38,290.06 609.25,295.08 621.12,313.84 633,308.81" stroke="#00ff00" stroke-width="1.2"/>
<path d="M345.4 265.01L350.6 270.21M345.4 270.21L350.6 265.01M348 264.76L348 270.46M345.15 267.61L350.85 267.61M369.15 268.36L374.35 273.56M369.15 273.56L374.35 268.36M371.75 268.11L371.75 273.81M368.9 270.96L374.6 270.96M381.02 273.72L386.23 278.92M381.02 278.92L386.23 273.72M383.62 273.47L383.62 279.17M380.77 276.32L386.48 276.32M404.77 294.82L409.98 300.03M404.77 300.03L409.98 294.82M407.38 294.57L407.38 300.28M404.52 297.43L410.23 297.43M416.65 302.86L421.85 308.06M416.65 308.06L421.85 302.86M419.25 302.61L419.25 308.31M416.4 305.46L422.1 305.46M428.52 302.86L433.73 308.06M428.52 308.06L433.73 302.86M431.12 302.61L431.12 308.31M428.27 305.46L433.98 305.46M440.4 309.56L445.6 314.76M440.4 314.76L445.6 309.56M443 309.31L443 315.01M440.15 312.16L445.85 312.16M452.27 309.56L457.48 314.76M452.27 314.76L457.48 309.56M454.88 309.31L454.88 315.01M452.02 312.16L457.73 312.16M464.15 312.91L469.35 318.12M464.15 318.12L469.35 312.91M466.75 312.66L466.75 318.37M463.9 315.51L469.6 315.51M476.02 296.16L481.23 301.37M476.02 301.37L481.23 296.16M478.62 295.91L478.62 301.62M475.77 298.76L481.48 298.76M487.9 272.38L493.1 277.58M487.9 277.58L493.1 272.38M490.5 272.13L490.5 277.83M487.65 274.98L493.35 274.98M499.77 282.09L504.98 287.3M499.77 287.3L504.98 282.09M502.38 281.84L502.38 287.55M499.52 284.69L505.23 284.69M511.65 309.56L516.85 314.76M511.65 314.76L516.85 309.56M514.25 309.31L514.25 315.01M511.4 312.16L517.1 312.16M523.52 287.45L528.73 292.66M523.52 292.66L528.73 287.45M526.12 287.2L526.12 292.91M523.27 290.06L528.98 290.06M535.4 292.48L540.6 297.68M535.4 297.68L540.6 292.48M538 292.23L538 297.93M535.15 295.08L540.85 295.08M547.27 296.16L552.48 301.37M547.27 301.37L552.48 296.16M549.88 295.91L549.88 301.62M547.02 298.76L552.73 298.76M559.15 297.84L564.35 303.04M559.15 303.04L564.35 297.84M561.75 297.59L561.75 303.29M558.9 300.44L564.6 300.44M571.02 304.54L576.23 309.74M571.02 309.74L576.23 304.54M573.62 304.29L573.62 309.99M570.77 307.14L576.48 307.14M582.9 304.54L588.1 309.74M582.9 309.74L588.1 304.54M585.5 304.29L585.5 309.99M582.65 307.14L588.35 307.14M594.77 287.45L599.98 292.66M594.77 292.66L599.98 287.45M597.38 287.2L597.38 292.91M594.52 290.06L600.23 290.06M606.65 292.48L611.85 297.68M606.65 297.68L611.85 292.48M609.25 292.23L609.25 297.93M606.4 295.08L612.1 295.08M618.52 311.24L623.73 316.44M618.52 316.44L623.73 311.24M621.12 310.99L621.12 316.69M618.27 313.84L623.98 313.84M630.4 306.21L635.6 311.42M630.4 311.42L635.6 306.21M633 305.96L633 311.67M630.15 308.81L635.85 308.81" stroke="#00ff00" stroke-width="1.1"/>
<polyline points="348,308.81 359.88,305.46 371.75,298.76 383.62,298.76 395.5,295.08 407.38,292.06 419.25,302.45 431.12,308.81 443,312.16 454.88,312.16 466.75,310.49 478.62,298.76 490.5,298.76 502.38,288.38 514.25,286.7 526.12,293.07 538,298.43 549.88,308.81 561.75,310.49 573.62,307.14 585.5,302.12 597.38,286.7 609.25,298.76 621.12,295.08 633,304.46" stroke="#0000ff" stroke-width="1.2"/>
<path d="M345.4 306.21L350.6 311.42M345.4 311.42L350.6 306.21M348 305.96L348 311.67M345.15 308.81L350.85 308.81M357.27 302.86L362.48 308.06M357.27 308.06L362.48 302.86M359.88 302.61L359.88 308.31M357.02 305.46L362.73 305.46M369.15 296.16L374.35 301.37M369.15 301.37L374.35 296.16M371.75 295.91L371.75 301.62M368.9 298.76L374.6 298.76M381.02 296.16L386.23 301.37M381.02 301.37L386.23 296.16M383.62 295.91L383.62 301.62M380.77 298.76L386.48 298.76M392.9 292.48L398.1 297.68M392.9 297.68L398.1 292.48M395.5 292.23L395.5 297.93M392.65 295.08L398.35 295.08M404.77 289.46L409.98 294.67M404.77 294.67L409.98 289.46M407.38 289.21L407.38 294.92M404.52 292.06L410.23 292.06M416.65 299.85L421.85 305.05M416.65 305.05L421.85 299.85M419.25 299.6L419.25 305.3M416.4 302.45L422.1 302.45M428.52 306.21L433.73 311.42M428.52 311.42L433.73 306.21M431.12 305.96L431.12 311.67M428.27 308.81L433.98 308.81M440.4 309.56L445.6 314.76M440.4 314.76L445.6 309.56M443 309.31L443 315.01M440.15 312.16L445.85 312.16M452.27 309.56L457.48 314.76M452.27 314.76L457.48 309.56M454.88 309.31L454.88 315.01M452.02 312.16L457.73 312.16M464.15 307.89L469.35 313.09M464.15 313.09L469.35 307.89M466.75 307.64L466.75 313.34M463.9 310.49L469.6 310.49M476.02 296.16L481.23 301.37M476.02 301.37L481.23 296.16M478.62 295.91L478.62 301.62M475.77 298.76L481.48 298.76M487.9 296.16L493.1 301.37M487.9 301.37L493.1 296.16M490.5 295.91L490.5 301.62M487.65 298.76L493.35 298.76M499.77 285.78L504.98 290.98M499.77 290.98L504.98 285.78M502.38 285.53L502.38 291.23M499.52 288.38L505.23 288.38M511.65 284.1L516.85 289.31M511.65 289.31L516.85 284.1M514.25 283.85L514.25 289.56M511.4 286.7L517.1 286.7M523.52 290.47L528.73 295.67M523.52 295.67L528.73 290.47M526.12 290.22L526.12 295.92M523.27 293.07L528.98 293.07M535.4 295.83L540.6 301.03M535.4 301.03L540.6 295.83M538 295.58L538 301.28M535.15 298.43L540.85 298.43M547.27 306.21L552.48 311.42M547.27 311.42L552.48 306.21M549.88 305.96L549.88 311.67M547.02 308.81L552.73 308.81M559.15 307.89L564.35 313.09M559.15 313.09L564.35 307.89M561.75 307.64L561.75 313.34M558.9 310.49L564.6 310.49M571.02 304.54L576.23 309.74M571.02 309.74L576.23 304.54M573.62 304.29L573.62 309.99M570.77 307.14L576.48 307.14M582.9 299.51L588.1 304.72M582.9 304.72L588.1 299.51M585.5 299.26L585.5 304.97M582.65 302.12L588.35 302.12M594.77 284.1L599.98 289.31M594.77 289.31L599.98 284.1M597.38 283.85L597.38 289.56M594.52 286.7L600.23 286.7M606.65 296.16L611.85 301.37M606.65 301.37L611.85 296.16M609.25 295.91L609.25 301.62M606.4 298.76L612.1 298.76M618.52 292.48L623.73 297.68M618.52 297.68L623.73 292.48M621.12 292.23L621.12 297.93M618.27 295.08L623.98 295.08M630.4 301.86L635.6 307.06M630.4 307.06L635.6 301.86M633 301.61L633 307.31M630.15 304.46L635.85 304.46" stroke="#0000ff" stroke-width="1.1"/>
<polyline points="348,303.79 359.88,298.76 371.75,292.06 383.62,290.06 395.5,291.73 407.38,293.07 419.25,296.75 431.12,295.08 443,295.08 454.88,298.76 466.75,292.06 478.62,296.75 490.5,292.06 502.38,283.02 514.25,295.08 526.12,317.52 538,317.52 549.88,318.86 561.75,317.86 573.62,317.86 585.5,318.86 597.38,315.51 609.25,310.49 621.12,305.46 633,300.44" stroke="#ff0000" stroke-width="1.2"/>
<path d="M345.4 301.19L350.6 306.39M345.4 306.39L350.6 301.19M348 300.94L348 306.64M345.15 303.79L350.85 303.79M357.27 296.16L362.48 301.37M357.27 301.37L362.48 296.16M359.88 295.91L359.88 301.62M357.02 298.76L362.73 298.76M369.15 289.46L374.35 294.67M369.15 294.67L374.35 289.46M371.75 289.21L371.75 294.92M368.9 292.06L374.6 292.06M381.02 287.45L386.23 292.66M381.02 292.66L386.23 287.45M383.62 287.2L383.62 292.91M380.77 290.06L386.48 290.06M404.77 290.47L409.98 295.67M404.77 295.67L409.98 290.47M407.38 290.22L407.38 295.92M404.52 293.07L410.23 293.07M416.65 294.15L421.85 299.36M416.65 299.36L421.85 294.15M419.25 293.9L419.25 299.61M416.4 296.75L422.1 296.75M428.52 292.48L433.73 297.68M428.52 297.68L433.73 292.48M431.12 292.23L431.12 297.93M428.27 295.08L433.98 295.08M440.4 292.48L445.6 297.68M440.4 297.68L445.6 292.48M443 292.23L443 297.93M440.15 295.08L445.85 295.08M452.27 296.16L457.48 301.37M452.27 301.37L457.48 296.16M454.88 295.91L454.88 301.62M452.02 298.76L457.73 298.76M464.15 289.46L469.35 294.67M464.15 294.67L469.35 289.46M466.75 289.21L466.75 294.92M463.9 292.06L469.6 292.06M476.02 294.15L481.23 299.36M476.02 299.36L481.23 294.15M478.62 293.9L478.62 299.61M475.77 296.75L481.48 296.75M487.9 289.46L493.1 294.67M487.9 294.67L493.1 289.46M490.5 289.21L490.5 294.92M487.65 292.06L493.35 292.06M499.77 280.42L504.98 285.62M499.77 285.62L504.98 280.42M502.38 280.17L502.38 285.87M499.52 283.02L505.23 283.02M511.65 292.48L516.85 297.68M511.65 297.68L516.85 292.48M514.25 292.23L514.25 297.93M511.4 295.08L517.1 295.08M523.52 314.92L528.73 320.12M523.52 320.12L528.73 314.92M526.12 314.67L526.12 320.38M523.27 317.52L528.98 317.52M535.4 314.92L540.6 320.12M535.4 320.12L540.6 314.92M538 314.67L538 320.38M535.15 317.52L540.85 317.52M547.27 316.26L552.48 321.46M547.27 321.46L552.48 316.26M549.88 316.01L549.88 321.71M547.02 318.86L552.73 318.86M559.15 315.26L564.35 320.46M559.15 320.46L564.35 315.26M561.75 315.01L561.75 320.71M558.9 317.86L564.6 317.86M571.02 315.26L576.23 320.46M571.02 320.46L576.23 315.26M573.62 315.01L573.62 320.71M570.77 317.86L576.48 317.86M582.9 316.26L588.1 321.46M582.9 321.46L588.1 316.26M585.5 316.01L585.5 321.71M582.65 318.86L588.35 318.86M594.77 312.91L599.98 318.12M594.77 318.12L599.98 312.91M597.38 312.66L597.38 318.37M594.52 315.51L600.23 315.51M606.65 307.89L611.85 313.09M606.65 313.09L611.85 307.89M609.25 307.64L609.25 313.34M606.4 310.49L612.1 310.49M618.52 302.86L623.73 308.06M618.52 308.06L623.73 302.86M621.12 302.61L621.12 308.31M618.27 305.46L623.98 305.46M630.4 297.84L635.6 303.04M630.4 303.04L635.6 297.84M633 297.59L633 303.29M630.15 300.44L635.85 300.44" stroke="#ff0000" stroke-width="1.1"/>
</g>
<path d="M348 309.27H633M348 292.52H633M348 275.77H633M348 259.02H633" stroke="#000" stroke-width="1.1" stroke-dasharray="1.3 1.845" stroke-dashoffset="2.35" fill="none"/><path d="M395.65 242.15V325.9M443.15 242.15V325.9M490.65 242.15V325.9M538.15 242.15V325.9M585.65 242.15V325.9" stroke="#000" stroke-width="1" stroke-dasharray="1.3 1.845" stroke-dashoffset="0.5" fill="none"/>
</g>
</svg></body></html>
